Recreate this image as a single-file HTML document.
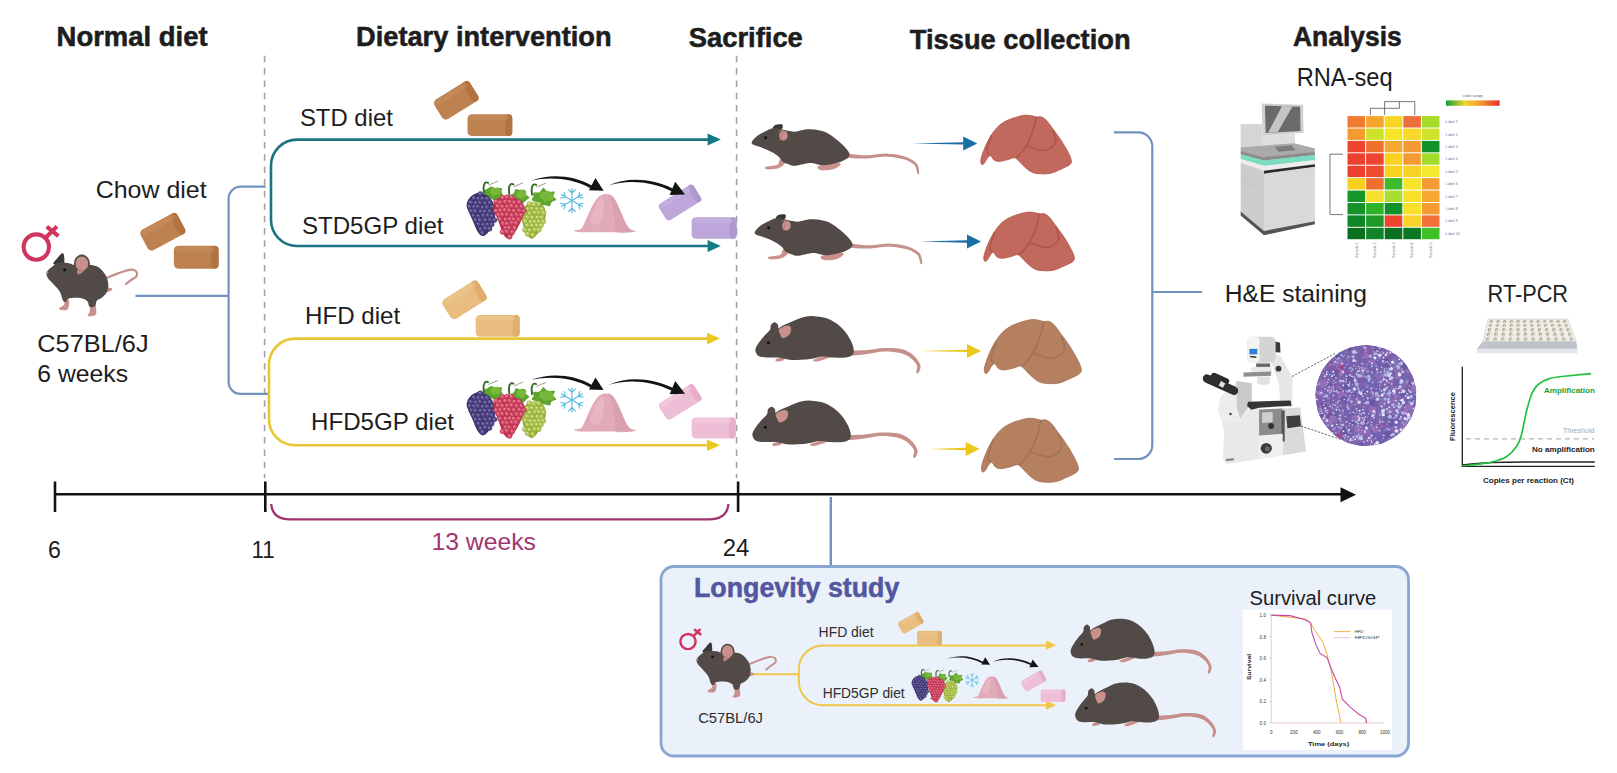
<!DOCTYPE html>
<html><head><meta charset="utf-8"><title>Study design</title>
<style>html,body{margin:0;padding:0;background:#fff}svg{display:block}text{font-family:"Liberation Sans",sans-serif}</style>
</head><body>
<svg width="1617" height="773" viewBox="0 0 1617 773" style="opacity:.999">
<rect width="1617" height="773" fill="#fff"/>
<defs>
<linearGradient id="lg" x1="0" x2="1"><stop offset="0" stop-color="#12a038"/><stop offset="0.35" stop-color="#f3d42a"/><stop offset="0.65" stop-color="#f39a30"/><stop offset="1" stop-color="#e52a2a"/></linearGradient>
</defs>
<path d="M264.6,55.8 V478 M736.6,55.8 V478" stroke="#a4a4a4" stroke-width="1.6" stroke-dasharray="6.5 5.8" fill="none"/>
<path d="M135.5,295.8 H228.6 M265.8,186.7 H240.6 A12,12 0 0 0 228.6,198.7 V381.9 A12,12 0 0 0 240.6,393.9 H268" stroke="#7191bf" stroke-width="2.2" fill="none"/>
<path d="M710,139.6 H297 A26,26 0 0 0 271,165.6 V220 A26,26 0 0 0 297,246 H710" stroke="#1a7282" stroke-width="2.6" fill="none"/>
<path d="M720.8,139.6 L707.6,133.6 V145.6Z M720.8,246 L707.6,240 V252Z" fill="#127a84"/>
<path d="M710,338.6 H295 A26,26 0 0 0 269,364.6 V419.3 A26,26 0 0 0 295,445.3 H710" stroke="#e9c633" stroke-width="2.6" fill="none"/>
<path d="M720,338.6 L707,332.8 V344.4Z M720,445.3 L707,439.5 V451.1Z" fill="#ecc81f"/>
<path d="M55,494.2 H1342 M55,481.5 V512 M265.3,481.5 V512 M738.1,481.5 V512" stroke="#111" stroke-width="2.6" fill="none"/>
<path d="M1356,494.8 L1340.5,487.3 V502.3Z" fill="#111"/>
<path d="M271.2,504 C272,514 278,519.3 290,519.3 H709 C722,519.3 727.6,514 728.4,504" stroke="#a3346f" stroke-width="2.3" fill="none"/>
<path d="M830.8,497 V566" stroke="#7191bf" stroke-width="2.4" fill="none"/>
<path d="M1114,132.4 H1138.3 A14,14 0 0 1 1152.3,146.4 V445 A14,14 0 0 1 1138.3,459 H1114 M1152.3,292 H1202" stroke="#7191bf" stroke-width="2.2" fill="none"/>
<rect x="661" y="566.5" width="747.5" height="189.5" rx="13" fill="#eaf1fb" stroke="#89a6d3" stroke-width="2.8"/>
<path d="M753,674.3 H798.8 M1046,645.4 H822.8 A24,24 0 0 0 798.8,669.4 V681.2 A24,24 0 0 0 822.8,705.2 H1046" stroke="#efc646" stroke-width="2" fill="none"/>
<path d="M1056,645.2 L1046,640.6 V649.8Z M1056,705.2 L1046,700.6 V709.8Z" fill="#efc646"/>
<text x="56.6" y="46" font-size="27" font-weight="bold" fill="#1d1d1d" textLength="151" lengthAdjust="spacingAndGlyphs" stroke="#1d1d1d" stroke-width="0.55">Normal diet</text>
<text x="356.1" y="46" font-size="27" font-weight="bold" fill="#1d1d1d" textLength="255.5" lengthAdjust="spacingAndGlyphs" stroke="#1d1d1d" stroke-width="0.55">Dietary intervention</text>
<text x="688.8" y="47.3" font-size="27" font-weight="bold" fill="#1d1d1d" textLength="114" lengthAdjust="spacingAndGlyphs" stroke="#1d1d1d" stroke-width="0.55">Sacrifice</text>
<text x="909.8" y="48.9" font-size="27" font-weight="bold" fill="#1d1d1d" textLength="220.8" lengthAdjust="spacingAndGlyphs" stroke="#1d1d1d" stroke-width="0.55">Tissue collection</text>
<text x="1293" y="46.4" font-size="27" font-weight="bold" fill="#1d1d1d" textLength="108.7" lengthAdjust="spacingAndGlyphs" stroke="#1d1d1d" stroke-width="0.55">Analysis</text>
<text x="1296.7" y="85.9" font-size="25" font-weight="normal" fill="#1d1d1d" textLength="96" lengthAdjust="spacingAndGlyphs">RNA-seq</text>
<text x="299.9" y="126.2" font-size="23.2" font-weight="normal" fill="#1d1d1d" textLength="93" lengthAdjust="spacingAndGlyphs">STD diet</text>
<text x="301.9" y="233.9" font-size="23.2" font-weight="normal" fill="#1d1d1d" textLength="141.6" lengthAdjust="spacingAndGlyphs">STD5GP diet</text>
<text x="95.7" y="197.6" font-size="23.2" font-weight="normal" fill="#1d1d1d" textLength="111" lengthAdjust="spacingAndGlyphs">Chow diet</text>
<text x="305" y="324" font-size="23.2" font-weight="normal" fill="#1d1d1d" textLength="95.2" lengthAdjust="spacingAndGlyphs">HFD diet</text>
<text x="311" y="430.4" font-size="23.2" font-weight="normal" fill="#1d1d1d" textLength="143" lengthAdjust="spacingAndGlyphs">HFD5GP diet</text>
<text x="37.3" y="352.2" font-size="23.2" font-weight="normal" fill="#1d1d1d" textLength="111.3" lengthAdjust="spacingAndGlyphs">C57BL/6J</text>
<text x="37.3" y="381.5" font-size="23.2" font-weight="normal" fill="#1d1d1d" textLength="90.7" lengthAdjust="spacingAndGlyphs">6 weeks</text>
<text x="48" y="557.5" font-size="23.2" font-weight="normal" fill="#1d1d1d" textLength="12.9" lengthAdjust="spacingAndGlyphs">6</text>
<text x="251.4" y="557.5" font-size="23.2" font-weight="normal" fill="#1d1d1d" textLength="23.2" lengthAdjust="spacingAndGlyphs">11</text>
<text x="722.7" y="556.3" font-size="23.2" font-weight="normal" fill="#1d1d1d" textLength="26.6" lengthAdjust="spacingAndGlyphs">24</text>
<text x="431.5" y="549.8" font-size="23.2" font-weight="normal" fill="#a3346f" textLength="104.4" lengthAdjust="spacingAndGlyphs">13 weeks</text>
<text x="1224.7" y="302" font-size="24.2" font-weight="normal" fill="#1d1d1d" textLength="142.3" lengthAdjust="spacingAndGlyphs">H&amp;E staining</text>
<text x="1487.6" y="302.1" font-size="24.2" font-weight="normal" fill="#1d1d1d" textLength="80.4" lengthAdjust="spacingAndGlyphs">RT-PCR</text>
<text x="694" y="597.2" font-size="28.5" font-weight="bold" fill="#52579e" textLength="205.3" lengthAdjust="spacingAndGlyphs" stroke="#52579e" stroke-width="0.55">Longevity study</text>
<text x="1249.5" y="604.6" font-size="20.5" font-weight="normal" fill="#1d1d1d" textLength="126.7" lengthAdjust="spacingAndGlyphs">Survival curve</text>
<text x="818.6" y="637" font-size="14" font-weight="normal" fill="#2e2e2e" textLength="55" lengthAdjust="spacingAndGlyphs">HFD diet</text>
<text x="822.7" y="697.7" font-size="14" font-weight="normal" fill="#2e2e2e" textLength="82" lengthAdjust="spacingAndGlyphs">HFD5GP diet</text>
<text x="698.2" y="722.5" font-size="14.5" font-weight="normal" fill="#2e2e2e" textLength="64.8" lengthAdjust="spacingAndGlyphs">C57BL/6J</text>
<g transform="translate(162.7,231.9) rotate(-28)"><rect x="-21.0" y="-11.75" width="42" height="23.5" rx="4.7" fill="#be8250"/><rect x="13.5" y="-11.75" width="7.5" height="23.5" rx="3.8" fill="#b07341"/><rect x="-19.0" y="-10.75" width="36" height="5.2" rx="2" fill="#c88f60" opacity="0.55"/></g>
<g transform="translate(196.2,257.2) rotate(0)"><rect x="-22.35" y="-11.5" width="44.7" height="23" rx="4.6" fill="#be8250"/><rect x="15.0" y="-11.5" width="7.4" height="23" rx="3.7" fill="#b07341"/><rect x="-20.35" y="-10.5" width="38.7" height="5.1" rx="2" fill="#c88f60" opacity="0.55"/></g>
<g transform="translate(456.2,100.4) rotate(-32)"><rect x="-21.0" y="-11.5" width="42" height="23" rx="4.6" fill="#be8250"/><rect x="13.6" y="-11.5" width="7.4" height="23" rx="3.7" fill="#b07341"/><rect x="-19.0" y="-10.5" width="36" height="5.1" rx="2" fill="#c88f60" opacity="0.55"/></g>
<g transform="translate(489.9,125.2) rotate(0)"><rect x="-22.35" y="-10.9" width="44.7" height="21.8" rx="4.4" fill="#be8250"/><rect x="15.4" y="-10.9" width="7.0" height="21.8" rx="3.5" fill="#b07341"/><rect x="-20.35" y="-9.9" width="38.7" height="4.8" rx="2" fill="#c88f60" opacity="0.55"/></g>
<g transform="translate(464.4,300) rotate(-32)"><rect x="-21.0" y="-11.5" width="42" height="23" rx="4.6" fill="#e9bd80"/><rect x="13.6" y="-11.5" width="7.4" height="23" rx="3.7" fill="#e0ae6c"/><rect x="-19.0" y="-10.5" width="36" height="5.1" rx="2" fill="#efc990" opacity="0.55"/></g>
<g transform="translate(497.7,325.8) rotate(0)"><rect x="-22.0" y="-10.85" width="44" height="21.7" rx="4.3" fill="#e9bd80"/><rect x="15.1" y="-10.85" width="6.9" height="21.7" rx="3.5" fill="#e0ae6c"/><rect x="-20.0" y="-9.85" width="38" height="4.8" rx="2" fill="#efc990" opacity="0.55"/></g>
<g transform="translate(679.9,202.6) rotate(-32)"><rect x="-20.5" y="-9.75" width="41" height="19.5" rx="3.9" fill="#bda6d9"/><rect x="14.3" y="-9.75" width="6.2" height="19.5" rx="3.1" fill="#b198d0"/><rect x="-18.5" y="-8.75" width="35" height="4.3" rx="2" fill="#c9b6e2" opacity="0.55"/></g>
<g transform="translate(714.1,228) rotate(0)"><rect x="-22.5" y="-10.85" width="45" height="21.7" rx="4.3" fill="#bda6d9"/><rect x="15.6" y="-10.85" width="6.9" height="21.7" rx="3.5" fill="#b198d0"/><rect x="-20.5" y="-9.85" width="39" height="4.8" rx="2" fill="#c9b6e2" opacity="0.55"/></g>
<g transform="translate(680.2,402) rotate(-32)"><rect x="-20.5" y="-9.75" width="41" height="19.5" rx="3.9" fill="#edbed6"/><rect x="14.3" y="-9.75" width="6.2" height="19.5" rx="3.1" fill="#e6aecb"/><rect x="-18.5" y="-8.75" width="35" height="4.3" rx="2" fill="#f3cde0" opacity="0.55"/></g>
<g transform="translate(713.7,428) rotate(0)"><rect x="-22.0" y="-10.6" width="44" height="21.2" rx="4.2" fill="#edbed6"/><rect x="15.2" y="-10.6" width="6.8" height="21.2" rx="3.4" fill="#e6aecb"/><rect x="-20.0" y="-9.6" width="38" height="4.7" rx="2" fill="#f3cde0" opacity="0.55"/></g>
<g transform="translate(910.7,622.8) rotate(-30)"><rect x="-12.0" y="-6.5" width="24" height="13" rx="2.6" fill="#e9bd80"/><rect x="7.8" y="-6.5" width="4.2" height="13" rx="2.1" fill="#e0ae6c"/><rect x="-10.0" y="-5.5" width="18" height="2.9" rx="2" fill="#efc990" opacity="0.55"/></g>
<g transform="translate(929.5,638.1) rotate(0)"><rect x="-12.5" y="-7.3" width="25" height="14.6" rx="2.9" fill="#e9bd80"/><rect x="7.8" y="-7.3" width="4.7" height="14.6" rx="2.3" fill="#e0ae6c"/><rect x="-10.5" y="-6.3" width="19" height="3.2" rx="2" fill="#efc990" opacity="0.55"/></g>
<g transform="translate(1033.6,681) rotate(-30)"><rect x="-12.0" y="-6.0" width="24" height="12" rx="2.4" fill="#edbed6"/><rect x="8.2" y="-6.0" width="3.8" height="12" rx="1.9" fill="#e6aecb"/><rect x="-10.0" y="-5.0" width="18" height="2.6" rx="2" fill="#f3cde0" opacity="0.55"/></g>
<g transform="translate(1053.1,695.7) rotate(0)"><rect x="-12.4" y="-6.2" width="24.8" height="12.4" rx="2.5" fill="#edbed6"/><rect x="8.4" y="-6.2" width="4.0" height="12.4" rx="2.0" fill="#e6aecb"/><rect x="-10.4" y="-5.2" width="18.8" height="2.7" rx="2" fill="#f3cde0" opacity="0.55"/></g>
<g id="gp"><path d="M503.03,195.44 C502.86,195.93 500.07,197.46 499.48,197.93 C498.89,198.40 496.62,200.97 495.91,201.03 C495.21,201.09 491.89,198.91 491.02,198.70 C490.15,198.49 485.96,198.80 485.48,198.46 C485.00,198.12 485.48,195.26 485.26,194.65 C485.04,194.04 482.61,191.57 482.79,191.09 C482.97,190.61 486.67,189.22 487.37,188.85 C488.07,188.48 490.49,186.65 491.18,186.60 C491.87,186.55 494.79,188.15 495.67,188.26 C496.56,188.37 501.31,187.64 501.80,187.96 C502.29,188.28 501.41,191.47 501.51,192.09 C501.61,192.71 503.20,194.95 503.03,195.44Z" fill="#5da52c"/><path d="M529.53,197.48 C529.54,198.02 526.44,200.11 525.90,200.61 C525.36,201.11 523.64,203.28 523.06,203.43 C522.48,203.58 519.66,202.43 518.89,202.45 C518.12,202.47 514.34,203.88 513.82,203.62 C513.30,203.36 513.00,199.97 512.69,199.32 C512.38,198.66 509.96,196.29 510.06,195.76 C510.16,195.23 513.43,193.57 513.90,193.01 C514.37,192.45 515.15,189.26 515.68,189.02 C516.21,188.78 519.51,190.07 520.29,190.14 C521.07,190.21 524.59,189.55 525.04,189.88 C525.49,190.21 525.36,193.51 525.73,194.14 C526.10,194.77 529.52,196.94 529.53,197.48Z" fill="#5da52c"/><path d="M556.47,199.84 C556.34,200.33 552.18,201.66 551.62,202.20 C551.06,202.74 550.43,206.05 549.79,206.28 C549.15,206.51 544.95,204.94 543.96,204.99 C542.97,205.04 538.56,207.12 537.96,206.88 C537.36,206.64 537.30,202.64 536.77,202.08 C536.24,201.52 531.91,200.63 531.64,200.17 C531.37,199.71 533.34,197.23 533.48,196.60 C533.62,195.97 532.80,192.93 533.30,192.57 C533.80,192.21 538.61,192.66 539.45,192.26 C540.29,191.85 542.66,187.74 543.35,187.71 C544.04,187.68 546.78,191.54 547.74,191.86 C548.70,192.18 554.37,191.20 554.83,191.58 C555.29,191.96 553.07,195.68 553.21,196.37 C553.35,197.06 556.60,199.35 556.47,199.84Z" fill="#5da52c"/><path d="M499.41,194.99 C499.10,195.15 496.81,194.79 496.30,194.85 C495.79,194.91 493.68,195.82 493.32,195.72 C492.96,195.62 492.25,193.99 491.96,193.70 C491.67,193.41 489.87,192.56 489.80,192.29 C489.73,192.02 490.94,190.82 491.07,190.46 C491.20,190.10 491.04,188.18 491.35,187.98 C491.67,187.78 494.29,188.16 494.85,188.11 C495.41,188.06 497.72,187.27 498.09,187.40 C498.46,187.53 499.00,189.37 499.33,189.67 C499.65,189.97 501.93,190.78 501.99,191.05 C502.05,191.32 500.28,192.58 500.07,192.91 C499.86,193.24 499.72,194.83 499.41,194.99Z" fill="#78b83a"/><path d="M526.39,196.42 C526.25,196.69 524.18,197.15 523.78,197.37 C523.38,197.59 521.97,199.00 521.59,199.02 C521.21,199.04 519.64,197.77 519.22,197.57 C518.80,197.37 516.74,196.94 516.54,196.66 C516.34,196.38 516.78,194.62 516.82,194.24 C516.86,193.86 516.83,192.38 517.03,192.12 C517.23,191.86 518.87,191.33 519.23,191.08 C519.59,190.83 520.95,189.17 521.31,189.15 C521.67,189.13 523.14,190.69 523.57,190.89 C524.00,191.09 526.34,191.30 526.50,191.56 C526.66,191.82 525.45,193.66 525.44,194.07 C525.43,194.47 526.53,196.14 526.39,196.42Z" fill="#78b83a"/><path d="M553.02,199.89 C552.65,200.18 549.31,200.29 548.63,200.43 C547.95,200.57 545.34,201.65 544.81,201.56 C544.28,201.47 542.73,199.61 542.25,199.30 C541.77,198.99 539.33,198.19 539.11,197.86 C538.89,197.53 539.58,195.81 539.65,195.37 C539.72,194.93 539.54,192.91 539.90,192.62 C540.26,192.33 543.30,192.07 543.95,191.92 C544.60,191.77 547.15,190.78 547.71,190.85 C548.27,190.91 550.18,192.41 550.69,192.70 C551.20,192.99 553.62,194.00 553.82,194.35 C554.02,194.70 553.13,196.49 553.06,196.95 C552.99,197.41 553.39,199.60 553.02,199.89Z" fill="#78b83a"/><path d="M483.93,192.81 C483.88,191.79 483.36,188.40 483.60,186.69 C483.84,184.98 484.64,183.22 485.38,182.57 C486.12,181.92 487.61,182.75 488.05,182.79" fill="none" stroke="#356a27" stroke-width="1.9" stroke-linecap="round"/><path d="M488.39,185.24 C489.22,184.87 491.82,183.69 493.40,183.02 C494.98,182.35 497.11,181.53 497.85,181.23" fill="none" stroke="#7a6a4a" stroke-width="0.7"/><path d="M509.32,194.37 C509.26,193.35 508.74,189.96 508.98,188.25 C509.22,186.54 510.02,184.78 510.76,184.13 C511.50,183.48 512.98,184.31 513.43,184.35" fill="none" stroke="#356a27" stroke-width="1.9" stroke-linecap="round"/><path d="M513.77,186.80 C514.61,186.43 517.20,185.24 518.78,184.57 C520.36,183.90 522.49,183.09 523.23,182.79" fill="none" stroke="#7a6a4a" stroke-width="0.7"/><path d="M532.02,194.82 C531.97,193.80 531.45,190.40 531.69,188.69 C531.93,186.98 532.73,185.22 533.47,184.57 C534.21,183.92 535.69,184.76 536.14,184.80" fill="none" stroke="#356a27" stroke-width="1.9" stroke-linecap="round"/><path d="M536.48,187.25 C537.32,186.88 539.91,185.69 541.49,185.02 C543.07,184.35 545.20,183.54 545.94,183.24" fill="none" stroke="#7a6a4a" stroke-width="0.7"/><path d="M466.68,204.17 C467.05,201.81 468.45,198.60 470.58,196.71 C472.71,194.82 476.42,192.75 479.48,192.81 C482.54,192.87 486.40,194.63 488.94,197.04 C491.48,199.45 493.76,203.53 494.73,207.28 C495.70,211.03 495.47,215.82 494.73,219.53 C493.99,223.24 492.13,226.81 490.28,229.55 C488.42,232.30 485.68,235.59 483.60,236.00 C481.52,236.41 479.70,234.75 477.81,232.00 C475.92,229.25 473.83,223.06 472.25,219.53 C470.67,216.00 469.28,213.41 468.35,210.85 C467.42,208.29 466.31,206.53 466.68,204.17Z" fill="#3c3468"/><circle cx="480.3" cy="194.0" r="2.45" fill="#554b8c" stroke="#3c3468" stroke-width="0.6"/><circle cx="479.7" cy="193.3" r="0.9" fill="#8a82c0"/><circle cx="473.9" cy="198.2" r="2.45" fill="#554b8c" stroke="#3c3468" stroke-width="0.6"/><circle cx="473.3" cy="197.5" r="0.9" fill="#8a82c0"/><circle cx="478.4" cy="198.5" r="2.45" fill="#554b8c" stroke="#3c3468" stroke-width="0.6"/><circle cx="477.8" cy="197.8" r="0.9" fill="#8a82c0"/><circle cx="482.5" cy="198.6" r="2.45" fill="#554b8c" stroke="#3c3468" stroke-width="0.6"/><circle cx="481.9" cy="197.9" r="0.9" fill="#8a82c0"/><circle cx="487.1" cy="198.5" r="2.45" fill="#554b8c" stroke="#3c3468" stroke-width="0.6"/><circle cx="486.5" cy="197.8" r="0.9" fill="#8a82c0"/><circle cx="470.8" cy="202.5" r="2.45" fill="#554b8c" stroke="#3c3468" stroke-width="0.6"/><circle cx="470.2" cy="201.8" r="0.9" fill="#8a82c0"/><circle cx="475.8" cy="203.2" r="2.45" fill="#554b8c" stroke="#3c3468" stroke-width="0.6"/><circle cx="475.2" cy="202.5" r="0.9" fill="#8a82c0"/><circle cx="480.1" cy="202.6" r="2.45" fill="#554b8c" stroke="#3c3468" stroke-width="0.6"/><circle cx="479.5" cy="201.9" r="0.9" fill="#8a82c0"/><circle cx="485.2" cy="203.3" r="2.45" fill="#554b8c" stroke="#3c3468" stroke-width="0.6"/><circle cx="484.6" cy="202.6" r="0.9" fill="#8a82c0"/><circle cx="489.8" cy="202.8" r="2.45" fill="#554b8c" stroke="#3c3468" stroke-width="0.6"/><circle cx="489.2" cy="202.1" r="0.9" fill="#8a82c0"/><circle cx="469.6" cy="206.7" r="2.45" fill="#554b8c" stroke="#3c3468" stroke-width="0.6"/><circle cx="469.0" cy="206.0" r="0.9" fill="#8a82c0"/><circle cx="474.1" cy="207.0" r="2.45" fill="#554b8c" stroke="#3c3468" stroke-width="0.6"/><circle cx="473.5" cy="206.3" r="0.9" fill="#8a82c0"/><circle cx="478.0" cy="206.8" r="2.45" fill="#554b8c" stroke="#3c3468" stroke-width="0.6"/><circle cx="477.4" cy="206.1" r="0.9" fill="#8a82c0"/><circle cx="482.7" cy="207.5" r="2.45" fill="#554b8c" stroke="#3c3468" stroke-width="0.6"/><circle cx="482.1" cy="206.8" r="0.9" fill="#8a82c0"/><circle cx="487.2" cy="207.3" r="2.45" fill="#554b8c" stroke="#3c3468" stroke-width="0.6"/><circle cx="486.6" cy="206.6" r="0.9" fill="#8a82c0"/><circle cx="492.3" cy="207.0" r="2.45" fill="#554b8c" stroke="#3c3468" stroke-width="0.6"/><circle cx="491.7" cy="206.3" r="0.9" fill="#8a82c0"/><circle cx="471.3" cy="211.0" r="2.45" fill="#554b8c" stroke="#3c3468" stroke-width="0.6"/><circle cx="470.7" cy="210.3" r="0.9" fill="#8a82c0"/><circle cx="475.4" cy="211.2" r="2.45" fill="#554b8c" stroke="#3c3468" stroke-width="0.6"/><circle cx="474.8" cy="210.5" r="0.9" fill="#8a82c0"/><circle cx="480.7" cy="211.4" r="2.45" fill="#554b8c" stroke="#3c3468" stroke-width="0.6"/><circle cx="480.1" cy="210.7" r="0.9" fill="#8a82c0"/><circle cx="484.9" cy="211.5" r="2.45" fill="#554b8c" stroke="#3c3468" stroke-width="0.6"/><circle cx="484.3" cy="210.8" r="0.9" fill="#8a82c0"/><circle cx="489.6" cy="211.3" r="2.45" fill="#554b8c" stroke="#3c3468" stroke-width="0.6"/><circle cx="489.0" cy="210.6" r="0.9" fill="#8a82c0"/><circle cx="494.6" cy="211.7" r="2.45" fill="#554b8c" stroke="#3c3468" stroke-width="0.6"/><circle cx="494.0" cy="211.0" r="0.9" fill="#8a82c0"/><circle cx="473.5" cy="215.8" r="2.45" fill="#554b8c" stroke="#3c3468" stroke-width="0.6"/><circle cx="472.9" cy="215.1" r="0.9" fill="#8a82c0"/><circle cx="478.4" cy="216.1" r="2.45" fill="#554b8c" stroke="#3c3468" stroke-width="0.6"/><circle cx="477.8" cy="215.4" r="0.9" fill="#8a82c0"/><circle cx="483.2" cy="215.5" r="2.45" fill="#554b8c" stroke="#3c3468" stroke-width="0.6"/><circle cx="482.6" cy="214.8" r="0.9" fill="#8a82c0"/><circle cx="488.0" cy="215.4" r="2.45" fill="#554b8c" stroke="#3c3468" stroke-width="0.6"/><circle cx="487.4" cy="214.7" r="0.9" fill="#8a82c0"/><circle cx="492.0" cy="216.0" r="2.45" fill="#554b8c" stroke="#3c3468" stroke-width="0.6"/><circle cx="491.4" cy="215.3" r="0.9" fill="#8a82c0"/><circle cx="475.5" cy="220.0" r="2.45" fill="#554b8c" stroke="#3c3468" stroke-width="0.6"/><circle cx="474.9" cy="219.3" r="0.9" fill="#8a82c0"/><circle cx="480.0" cy="220.2" r="2.45" fill="#554b8c" stroke="#3c3468" stroke-width="0.6"/><circle cx="479.4" cy="219.5" r="0.9" fill="#8a82c0"/><circle cx="485.3" cy="220.1" r="2.45" fill="#554b8c" stroke="#3c3468" stroke-width="0.6"/><circle cx="484.7" cy="219.4" r="0.9" fill="#8a82c0"/><circle cx="490.1" cy="219.8" r="2.45" fill="#554b8c" stroke="#3c3468" stroke-width="0.6"/><circle cx="489.5" cy="219.1" r="0.9" fill="#8a82c0"/><circle cx="494.5" cy="220.1" r="2.45" fill="#554b8c" stroke="#3c3468" stroke-width="0.6"/><circle cx="493.9" cy="219.4" r="0.9" fill="#8a82c0"/><circle cx="478.4" cy="224.3" r="2.45" fill="#554b8c" stroke="#3c3468" stroke-width="0.6"/><circle cx="477.8" cy="223.6" r="0.9" fill="#8a82c0"/><circle cx="483.3" cy="224.8" r="2.45" fill="#554b8c" stroke="#3c3468" stroke-width="0.6"/><circle cx="482.7" cy="224.1" r="0.9" fill="#8a82c0"/><circle cx="487.5" cy="224.5" r="2.45" fill="#554b8c" stroke="#3c3468" stroke-width="0.6"/><circle cx="486.9" cy="223.8" r="0.9" fill="#8a82c0"/><circle cx="491.7" cy="224.5" r="2.45" fill="#554b8c" stroke="#3c3468" stroke-width="0.6"/><circle cx="491.1" cy="223.8" r="0.9" fill="#8a82c0"/><circle cx="480.6" cy="229.1" r="2.45" fill="#554b8c" stroke="#3c3468" stroke-width="0.6"/><circle cx="480.0" cy="228.4" r="0.9" fill="#8a82c0"/><circle cx="485.4" cy="228.4" r="2.45" fill="#554b8c" stroke="#3c3468" stroke-width="0.6"/><circle cx="484.8" cy="227.7" r="0.9" fill="#8a82c0"/><circle cx="489.6" cy="228.8" r="2.45" fill="#554b8c" stroke="#3c3468" stroke-width="0.6"/><circle cx="489.0" cy="228.1" r="0.9" fill="#8a82c0"/><circle cx="482.5" cy="232.9" r="2.45" fill="#554b8c" stroke="#3c3468" stroke-width="0.6"/><circle cx="481.9" cy="232.2" r="0.9" fill="#8a82c0"/><path d="M520.67,213.07 C521.04,210.47 522.44,208.10 524.57,206.39 C526.70,204.68 530.47,203.05 533.47,202.83 C536.48,202.61 540.52,203.21 542.60,205.06 C544.68,206.91 545.76,211.09 545.94,213.96 C546.12,216.84 545.01,219.16 543.71,222.31 C542.41,225.47 540.19,230.16 538.15,232.89 C536.11,235.62 533.55,238.64 531.47,238.68 C529.39,238.72 527.20,235.89 525.68,233.11 C524.16,230.33 523.18,225.32 522.34,221.98 C521.50,218.64 520.30,215.67 520.67,213.07Z" fill="#93ab3c"/><circle cx="529.5" cy="203.9" r="2.45" fill="#b3c955" stroke="#93ab3c" stroke-width="0.6"/><circle cx="528.9" cy="203.2" r="0.9" fill="#dbe69a"/><circle cx="534.0" cy="204.6" r="2.45" fill="#b3c955" stroke="#93ab3c" stroke-width="0.6"/><circle cx="533.4" cy="203.9" r="0.9" fill="#dbe69a"/><circle cx="538.7" cy="204.1" r="2.45" fill="#b3c955" stroke="#93ab3c" stroke-width="0.6"/><circle cx="538.1" cy="203.4" r="0.9" fill="#dbe69a"/><circle cx="527.6" cy="209.0" r="2.45" fill="#b3c955" stroke="#93ab3c" stroke-width="0.6"/><circle cx="527.0" cy="208.3" r="0.9" fill="#dbe69a"/><circle cx="531.9" cy="208.6" r="2.45" fill="#b3c955" stroke="#93ab3c" stroke-width="0.6"/><circle cx="531.3" cy="207.9" r="0.9" fill="#dbe69a"/><circle cx="537.0" cy="209.0" r="2.45" fill="#b3c955" stroke="#93ab3c" stroke-width="0.6"/><circle cx="536.4" cy="208.3" r="0.9" fill="#dbe69a"/><circle cx="541.8" cy="209.0" r="2.45" fill="#b3c955" stroke="#93ab3c" stroke-width="0.6"/><circle cx="541.2" cy="208.3" r="0.9" fill="#dbe69a"/><circle cx="525.0" cy="212.8" r="2.45" fill="#b3c955" stroke="#93ab3c" stroke-width="0.6"/><circle cx="524.4" cy="212.1" r="0.9" fill="#dbe69a"/><circle cx="529.7" cy="213.3" r="2.45" fill="#b3c955" stroke="#93ab3c" stroke-width="0.6"/><circle cx="529.1" cy="212.6" r="0.9" fill="#dbe69a"/><circle cx="534.9" cy="212.6" r="2.45" fill="#b3c955" stroke="#93ab3c" stroke-width="0.6"/><circle cx="534.3" cy="211.9" r="0.9" fill="#dbe69a"/><circle cx="538.7" cy="212.6" r="2.45" fill="#b3c955" stroke="#93ab3c" stroke-width="0.6"/><circle cx="538.1" cy="211.9" r="0.9" fill="#dbe69a"/><circle cx="543.4" cy="212.9" r="2.45" fill="#b3c955" stroke="#93ab3c" stroke-width="0.6"/><circle cx="542.8" cy="212.2" r="0.9" fill="#dbe69a"/><circle cx="523.2" cy="217.0" r="2.45" fill="#b3c955" stroke="#93ab3c" stroke-width="0.6"/><circle cx="522.6" cy="216.3" r="0.9" fill="#dbe69a"/><circle cx="527.2" cy="217.1" r="2.45" fill="#b3c955" stroke="#93ab3c" stroke-width="0.6"/><circle cx="526.6" cy="216.4" r="0.9" fill="#dbe69a"/><circle cx="532.2" cy="217.3" r="2.45" fill="#b3c955" stroke="#93ab3c" stroke-width="0.6"/><circle cx="531.6" cy="216.6" r="0.9" fill="#dbe69a"/><circle cx="537.4" cy="217.4" r="2.45" fill="#b3c955" stroke="#93ab3c" stroke-width="0.6"/><circle cx="536.8" cy="216.7" r="0.9" fill="#dbe69a"/><circle cx="541.5" cy="217.3" r="2.45" fill="#b3c955" stroke="#93ab3c" stroke-width="0.6"/><circle cx="540.9" cy="216.6" r="0.9" fill="#dbe69a"/><circle cx="525.4" cy="221.0" r="2.45" fill="#b3c955" stroke="#93ab3c" stroke-width="0.6"/><circle cx="524.8" cy="220.3" r="0.9" fill="#dbe69a"/><circle cx="530.3" cy="221.8" r="2.45" fill="#b3c955" stroke="#93ab3c" stroke-width="0.6"/><circle cx="529.7" cy="221.1" r="0.9" fill="#dbe69a"/><circle cx="534.8" cy="221.8" r="2.45" fill="#b3c955" stroke="#93ab3c" stroke-width="0.6"/><circle cx="534.2" cy="221.1" r="0.9" fill="#dbe69a"/><circle cx="539.0" cy="221.4" r="2.45" fill="#b3c955" stroke="#93ab3c" stroke-width="0.6"/><circle cx="538.4" cy="220.7" r="0.9" fill="#dbe69a"/><circle cx="543.3" cy="221.6" r="2.45" fill="#b3c955" stroke="#93ab3c" stroke-width="0.6"/><circle cx="542.7" cy="220.9" r="0.9" fill="#dbe69a"/><circle cx="527.3" cy="225.3" r="2.45" fill="#b3c955" stroke="#93ab3c" stroke-width="0.6"/><circle cx="526.7" cy="224.6" r="0.9" fill="#dbe69a"/><circle cx="532.0" cy="225.4" r="2.45" fill="#b3c955" stroke="#93ab3c" stroke-width="0.6"/><circle cx="531.4" cy="224.7" r="0.9" fill="#dbe69a"/><circle cx="536.8" cy="225.3" r="2.45" fill="#b3c955" stroke="#93ab3c" stroke-width="0.6"/><circle cx="536.2" cy="224.6" r="0.9" fill="#dbe69a"/><circle cx="541.0" cy="225.4" r="2.45" fill="#b3c955" stroke="#93ab3c" stroke-width="0.6"/><circle cx="540.4" cy="224.7" r="0.9" fill="#dbe69a"/><circle cx="524.9" cy="229.9" r="2.45" fill="#b3c955" stroke="#93ab3c" stroke-width="0.6"/><circle cx="524.3" cy="229.2" r="0.9" fill="#dbe69a"/><circle cx="529.4" cy="230.4" r="2.45" fill="#b3c955" stroke="#93ab3c" stroke-width="0.6"/><circle cx="528.8" cy="229.7" r="0.9" fill="#dbe69a"/><circle cx="534.6" cy="229.7" r="2.45" fill="#b3c955" stroke="#93ab3c" stroke-width="0.6"/><circle cx="534.0" cy="229.0" r="0.9" fill="#dbe69a"/><circle cx="538.8" cy="229.9" r="2.45" fill="#b3c955" stroke="#93ab3c" stroke-width="0.6"/><circle cx="538.2" cy="229.2" r="0.9" fill="#dbe69a"/><circle cx="527.6" cy="234.0" r="2.45" fill="#b3c955" stroke="#93ab3c" stroke-width="0.6"/><circle cx="527.0" cy="233.3" r="0.9" fill="#dbe69a"/><circle cx="532.7" cy="234.8" r="2.45" fill="#b3c955" stroke="#93ab3c" stroke-width="0.6"/><circle cx="532.1" cy="234.1" r="0.9" fill="#dbe69a"/><path d="M493.40,205.28 C493.40,201.75 495.44,200.12 497.85,198.60 C500.26,197.08 504.49,196.00 507.87,196.15 C511.25,196.30 515.38,197.78 518.11,199.49 C520.84,201.20 523.49,203.38 524.23,206.39 C524.97,209.39 523.95,213.48 522.56,217.52 C521.17,221.56 518.11,227.13 515.88,230.66 C513.65,234.19 511.28,238.09 509.20,238.68 C507.12,239.27 505.31,237.38 503.42,234.22 C501.53,231.06 499.52,224.57 497.85,219.75 C496.18,214.93 493.40,208.81 493.40,205.28Z" fill="#b8324e"/><circle cx="502.6" cy="197.6" r="2.45" fill="#d5506a" stroke="#b8324e" stroke-width="0.6"/><circle cx="502.0" cy="196.9" r="0.9" fill="#f090a5"/><circle cx="506.8" cy="197.3" r="2.45" fill="#d5506a" stroke="#b8324e" stroke-width="0.6"/><circle cx="506.2" cy="196.6" r="0.9" fill="#f090a5"/><circle cx="511.6" cy="197.4" r="2.45" fill="#d5506a" stroke="#b8324e" stroke-width="0.6"/><circle cx="511.0" cy="196.7" r="0.9" fill="#f090a5"/><circle cx="496.2" cy="201.6" r="2.45" fill="#d5506a" stroke="#b8324e" stroke-width="0.6"/><circle cx="495.6" cy="200.9" r="0.9" fill="#f090a5"/><circle cx="500.0" cy="202.4" r="2.45" fill="#d5506a" stroke="#b8324e" stroke-width="0.6"/><circle cx="499.4" cy="201.7" r="0.9" fill="#f090a5"/><circle cx="505.1" cy="201.6" r="2.45" fill="#d5506a" stroke="#b8324e" stroke-width="0.6"/><circle cx="504.5" cy="200.9" r="0.9" fill="#f090a5"/><circle cx="509.7" cy="201.5" r="2.45" fill="#d5506a" stroke="#b8324e" stroke-width="0.6"/><circle cx="509.1" cy="200.8" r="0.9" fill="#f090a5"/><circle cx="514.3" cy="202.4" r="2.45" fill="#d5506a" stroke="#b8324e" stroke-width="0.6"/><circle cx="513.7" cy="201.7" r="0.9" fill="#f090a5"/><circle cx="519.2" cy="202.1" r="2.45" fill="#d5506a" stroke="#b8324e" stroke-width="0.6"/><circle cx="518.6" cy="201.4" r="0.9" fill="#f090a5"/><circle cx="497.8" cy="206.1" r="2.45" fill="#d5506a" stroke="#b8324e" stroke-width="0.6"/><circle cx="497.2" cy="205.4" r="0.9" fill="#f090a5"/><circle cx="502.3" cy="206.5" r="2.45" fill="#d5506a" stroke="#b8324e" stroke-width="0.6"/><circle cx="501.7" cy="205.8" r="0.9" fill="#f090a5"/><circle cx="507.2" cy="206.5" r="2.45" fill="#d5506a" stroke="#b8324e" stroke-width="0.6"/><circle cx="506.6" cy="205.8" r="0.9" fill="#f090a5"/><circle cx="511.6" cy="205.9" r="2.45" fill="#d5506a" stroke="#b8324e" stroke-width="0.6"/><circle cx="511.0" cy="205.2" r="0.9" fill="#f090a5"/><circle cx="516.7" cy="206.7" r="2.45" fill="#d5506a" stroke="#b8324e" stroke-width="0.6"/><circle cx="516.1" cy="206.0" r="0.9" fill="#f090a5"/><circle cx="521.4" cy="206.5" r="2.45" fill="#d5506a" stroke="#b8324e" stroke-width="0.6"/><circle cx="520.8" cy="205.8" r="0.9" fill="#f090a5"/><circle cx="496.2" cy="210.8" r="2.45" fill="#d5506a" stroke="#b8324e" stroke-width="0.6"/><circle cx="495.6" cy="210.1" r="0.9" fill="#f090a5"/><circle cx="500.2" cy="210.5" r="2.45" fill="#d5506a" stroke="#b8324e" stroke-width="0.6"/><circle cx="499.6" cy="209.8" r="0.9" fill="#f090a5"/><circle cx="504.9" cy="210.0" r="2.45" fill="#d5506a" stroke="#b8324e" stroke-width="0.6"/><circle cx="504.3" cy="209.3" r="0.9" fill="#f090a5"/><circle cx="509.2" cy="210.3" r="2.45" fill="#d5506a" stroke="#b8324e" stroke-width="0.6"/><circle cx="508.6" cy="209.6" r="0.9" fill="#f090a5"/><circle cx="514.0" cy="210.7" r="2.45" fill="#d5506a" stroke="#b8324e" stroke-width="0.6"/><circle cx="513.4" cy="210.0" r="0.9" fill="#f090a5"/><circle cx="519.3" cy="210.5" r="2.45" fill="#d5506a" stroke="#b8324e" stroke-width="0.6"/><circle cx="518.7" cy="209.8" r="0.9" fill="#f090a5"/><circle cx="523.9" cy="211.0" r="2.45" fill="#d5506a" stroke="#b8324e" stroke-width="0.6"/><circle cx="523.3" cy="210.3" r="0.9" fill="#f090a5"/><circle cx="498.5" cy="214.7" r="2.45" fill="#d5506a" stroke="#b8324e" stroke-width="0.6"/><circle cx="497.9" cy="214.0" r="0.9" fill="#f090a5"/><circle cx="502.3" cy="214.5" r="2.45" fill="#d5506a" stroke="#b8324e" stroke-width="0.6"/><circle cx="501.7" cy="213.8" r="0.9" fill="#f090a5"/><circle cx="506.9" cy="214.5" r="2.45" fill="#d5506a" stroke="#b8324e" stroke-width="0.6"/><circle cx="506.3" cy="213.8" r="0.9" fill="#f090a5"/><circle cx="511.9" cy="215.2" r="2.45" fill="#d5506a" stroke="#b8324e" stroke-width="0.6"/><circle cx="511.3" cy="214.5" r="0.9" fill="#f090a5"/><circle cx="516.7" cy="214.8" r="2.45" fill="#d5506a" stroke="#b8324e" stroke-width="0.6"/><circle cx="516.1" cy="214.1" r="0.9" fill="#f090a5"/><circle cx="521.2" cy="215.1" r="2.45" fill="#d5506a" stroke="#b8324e" stroke-width="0.6"/><circle cx="520.6" cy="214.4" r="0.9" fill="#f090a5"/><circle cx="500.0" cy="219.2" r="2.45" fill="#d5506a" stroke="#b8324e" stroke-width="0.6"/><circle cx="499.4" cy="218.5" r="0.9" fill="#f090a5"/><circle cx="505.5" cy="219.4" r="2.45" fill="#d5506a" stroke="#b8324e" stroke-width="0.6"/><circle cx="504.9" cy="218.7" r="0.9" fill="#f090a5"/><circle cx="509.9" cy="219.1" r="2.45" fill="#d5506a" stroke="#b8324e" stroke-width="0.6"/><circle cx="509.3" cy="218.4" r="0.9" fill="#f090a5"/><circle cx="513.9" cy="219.4" r="2.45" fill="#d5506a" stroke="#b8324e" stroke-width="0.6"/><circle cx="513.3" cy="218.7" r="0.9" fill="#f090a5"/><circle cx="518.7" cy="219.4" r="2.45" fill="#d5506a" stroke="#b8324e" stroke-width="0.6"/><circle cx="518.1" cy="218.7" r="0.9" fill="#f090a5"/><circle cx="503.1" cy="223.3" r="2.45" fill="#d5506a" stroke="#b8324e" stroke-width="0.6"/><circle cx="502.5" cy="222.6" r="0.9" fill="#f090a5"/><circle cx="507.1" cy="223.8" r="2.45" fill="#d5506a" stroke="#b8324e" stroke-width="0.6"/><circle cx="506.5" cy="223.1" r="0.9" fill="#f090a5"/><circle cx="512.0" cy="223.0" r="2.45" fill="#d5506a" stroke="#b8324e" stroke-width="0.6"/><circle cx="511.4" cy="222.3" r="0.9" fill="#f090a5"/><circle cx="516.0" cy="223.0" r="2.45" fill="#d5506a" stroke="#b8324e" stroke-width="0.6"/><circle cx="515.4" cy="222.3" r="0.9" fill="#f090a5"/><circle cx="505.5" cy="228.0" r="2.45" fill="#d5506a" stroke="#b8324e" stroke-width="0.6"/><circle cx="504.9" cy="227.3" r="0.9" fill="#f090a5"/><circle cx="509.3" cy="228.0" r="2.45" fill="#d5506a" stroke="#b8324e" stroke-width="0.6"/><circle cx="508.7" cy="227.3" r="0.9" fill="#f090a5"/><circle cx="514.7" cy="227.8" r="2.45" fill="#d5506a" stroke="#b8324e" stroke-width="0.6"/><circle cx="514.1" cy="227.1" r="0.9" fill="#f090a5"/><circle cx="502.5" cy="232.0" r="2.45" fill="#d5506a" stroke="#b8324e" stroke-width="0.6"/><circle cx="501.9" cy="231.3" r="0.9" fill="#f090a5"/><circle cx="506.8" cy="231.5" r="2.45" fill="#d5506a" stroke="#b8324e" stroke-width="0.6"/><circle cx="506.2" cy="230.8" r="0.9" fill="#f090a5"/><circle cx="512.3" cy="232.1" r="2.45" fill="#d5506a" stroke="#b8324e" stroke-width="0.6"/><circle cx="511.7" cy="231.4" r="0.9" fill="#f090a5"/><circle cx="509.7" cy="236.7" r="2.45" fill="#d5506a" stroke="#b8324e" stroke-width="0.6"/><circle cx="509.1" cy="236.0" r="0.9" fill="#f090a5"/><g transform="translate(571.9,200.6)" stroke="#55bce0" stroke-width="1.15" fill="none" stroke-linecap="round"><g transform="rotate(0)"><path d="M0,0 V-12 M0,-7.6 L-3.3,-10.9 M0,-7.6 L3.3,-10.9"/></g><g transform="rotate(60)"><path d="M0,0 V-12 M0,-7.6 L-3.3,-10.9 M0,-7.6 L3.3,-10.9"/></g><g transform="rotate(120)"><path d="M0,0 V-12 M0,-7.6 L-3.3,-10.9 M0,-7.6 L3.3,-10.9"/></g><g transform="rotate(180)"><path d="M0,0 V-12 M0,-7.6 L-3.3,-10.9 M0,-7.6 L3.3,-10.9"/></g><g transform="rotate(240)"><path d="M0,0 V-12 M0,-7.6 L-3.3,-10.9 M0,-7.6 L3.3,-10.9"/></g><g transform="rotate(300)"><path d="M0,0 V-12 M0,-7.6 L-3.3,-10.9 M0,-7.6 L3.3,-10.9"/></g></g><path d="M573.80,230.46 C573.84,229.93 579.42,229.97 581.09,228.70 C582.76,227.43 583.76,224.41 584.96,222.00 C586.16,219.59 587.76,215.42 589.08,212.60 C590.40,209.78 592.34,205.56 593.78,203.20 C595.22,200.84 597.30,198.18 598.71,196.86 C600.12,195.54 601.72,194.76 603.18,194.39 C604.64,194.02 606.94,193.95 608.47,194.39 C610.00,194.83 612.04,195.83 613.40,197.33 C614.76,198.83 616.28,201.91 617.51,204.38 C618.74,206.85 620.40,210.96 621.63,213.78 C622.86,216.60 624.51,220.89 625.74,223.18 C626.97,225.47 628.33,227.83 629.85,229.05 C631.37,230.27 635.80,230.81 635.85,231.29 C635.90,231.77 634.76,232.09 630.21,232.23 C625.66,232.37 612.93,232.23 605.53,232.23 C598.13,232.23 585.61,232.50 580.85,232.23 C576.09,231.96 573.76,230.99 573.80,230.46Z" fill="#e0abb7"/><path d="M608.47,194.51 C608.59,193.28 612.04,195.85 613.40,197.33 C614.76,198.81 616.28,201.91 617.51,204.38 C618.74,206.85 620.40,210.96 621.63,213.78 C622.86,216.60 624.51,220.89 625.74,223.18 C626.97,225.47 628.83,227.75 629.85,229.05 C630.87,230.35 634.62,231.41 632.56,231.87 C630.50,232.33 618.74,233.94 616.10,232.11 C613.46,230.28 615.46,223.63 614.93,219.65 C614.40,215.67 613.55,209.32 612.58,205.55 C611.61,201.78 608.35,195.74 608.47,194.51Z" fill="#d79dab" opacity="0.8"/><path d="M590.25,222.00 C589.47,219.26 593.09,210.84 594.95,206.73 C596.81,202.62 599.85,197.53 601.42,197.33 C602.99,197.13 604.64,201.24 604.35,205.55 C604.06,209.86 602.00,220.44 599.65,223.18 C597.30,225.92 591.03,224.74 590.25,222.00Z" fill="#e9bec8" opacity="0.6"/></g>
<g id="ar"><path d="M531.25,180.79 C549.06,173.33 573.55,175.0 591.92,185.58 L590.25,188.14 C572.43,178.12 549.06,176.34 531.25,180.79Z" fill="#141414"/><path d="M603.60,190.81 L588.91,190.14 L595.48,178.12Z" fill="#141414"/><path d="M608.28,185.73 C626.91,176.73 651.75,178.28 672.97,188.63 L671.41,191.22 C650.71,181.18 626.91,179.52 608.28,185.73Z" fill="#141414"/><path d="M685.08,194.43 L669.65,194.94 L675.24,181.70Z" fill="#141414"/></g>
<use href="#gp" transform="translate(0,199.3)"/><use href="#ar" transform="translate(0,199.3)"/>
<use href="#gp" transform="translate(643.3,564.8) scale(0.575)"/><use href="#ar" transform="translate(630.9,551.3) scale(0.595)"/>
<g id="lean"><path d="M847.97,153.96 C851.22,153.53 860.86,155.36 867.45,155.30 C874.04,155.25 881.27,153.44 887.49,153.63 C893.71,153.81 899.93,154.83 904.75,156.41 C909.57,157.99 914.02,160.34 916.43,163.09 C918.84,165.84 919.07,171.18 919.22,172.89 C919.37,174.60 918.17,174.67 917.33,173.33 C916.50,171.99 916.49,167.21 914.21,164.87 C911.93,162.53 908.08,160.68 903.63,159.31 C899.18,157.94 893.52,156.78 887.49,156.63 C881.46,156.48 874.04,158.21 867.45,158.42 C860.86,158.62 851.22,158.60 847.97,157.86 C844.72,157.12 844.72,154.39 847.97,153.96Z" fill="#c58f8a"/><path d="M780.07,159.53 C778.77,160.22 779.69,163.53 777.28,164.76 C774.87,165.98 767.26,166.12 765.59,166.88 C763.92,167.64 765.12,169.10 767.26,169.32 C769.39,169.54 775.52,169.10 778.40,168.21 C781.28,167.32 783.41,165.24 784.52,163.98 C785.63,162.72 785.82,161.38 785.08,160.64 C784.34,159.90 781.37,158.84 780.07,159.53Z" fill="#c9908c"/><path d="M817.92,166.43 C815.88,167.66 819.12,169.81 821.81,170.22 C824.50,170.63 830.90,169.92 834.06,168.88 C837.21,167.84 840.74,164.98 840.74,163.98 C840.74,162.98 837.86,162.46 834.06,162.87 C830.26,163.28 819.96,165.21 817.92,166.43Z" fill="#c9908c"/><path d="M772.83,128.92 C772.12,127.99 773.79,125.78 775.28,125.02 C776.76,124.26 780.51,123.94 781.74,124.35 C782.97,124.76 783.00,126.43 782.63,127.47 C782.26,128.51 781.14,130.34 779.51,130.58 C777.88,130.82 773.54,129.85 772.83,128.92Z" fill="#3b3735"/><path d="M751.68,142.27 C752.05,140.88 754.09,138.44 756.13,136.71 C758.17,134.99 761.14,133.35 763.92,131.92 C766.70,130.49 770.05,128.58 772.83,128.14 C775.61,127.69 778.12,128.81 780.62,129.25 C783.12,129.69 785.45,130.40 787.86,130.81 C790.27,131.22 792.22,131.92 795.09,131.70 C797.97,131.48 801.40,129.77 805.11,129.47 C808.82,129.17 813.74,129.36 817.36,129.92 C820.98,130.48 823.63,131.22 826.82,132.81 C830.01,134.41 833.60,137.23 836.51,139.49 C839.42,141.75 842.17,144.13 844.30,146.39 C846.43,148.65 848.66,151.21 849.31,153.07 C849.96,154.93 849.25,156.22 848.19,157.52 C847.13,158.82 844.95,159.93 842.96,160.86 C840.98,161.79 839.62,162.35 836.28,163.09 C832.94,163.83 827.00,165.32 822.92,165.32 C818.84,165.32 815.13,163.28 811.79,163.09 C808.45,162.90 805.86,163.74 802.89,164.20 C799.92,164.66 796.39,165.87 793.98,165.87 C791.57,165.87 790.27,164.89 788.42,164.20 C786.56,163.51 784.52,163.05 782.85,161.75 C781.18,160.45 780.25,158.04 778.40,156.41 C776.54,154.78 774.50,153.44 771.72,151.96 C768.94,150.48 764.67,148.66 761.70,147.51 C758.73,146.36 755.58,145.93 753.91,145.06 C752.24,144.19 751.31,143.66 751.68,142.27Z" fill="#524a46"/><ellipse cx="783.41" cy="135.59" rx="4.3" ry="5" fill="#c9908c" transform="rotate(8 783.41 135.59)"/><path d="M778.40,131.70 C779.14,131.42 782.29,129.38 782.85,130.03 C783.41,130.68 782.20,133.83 781.74,135.59 C781.28,137.35 780.35,139.76 780.07,140.60" fill="none" stroke="#a87874" stroke-width="0.9"/><circle cx="765.59" cy="137.82" r="1.5" fill="#111"/></g>
<use href="#lean" transform="translate(3,90)"/>
<g id="fat"><path d="M850.76,351.20 C853.54,350.33 861.88,350.63 867.45,350.09 C873.02,349.55 878.49,348.14 884.15,347.97 C889.81,347.80 896.58,347.89 901.41,349.08 C906.24,350.27 909.95,352.42 913.10,355.09 C916.25,357.76 919.40,362.18 920.33,365.11 C921.26,368.04 919.35,371.49 918.66,372.68 C917.97,373.87 916.49,373.41 916.21,372.24 C915.93,371.07 917.88,368.01 916.99,365.67 C916.10,363.33 913.65,360.31 910.87,358.21 C908.09,356.11 904.74,354.20 900.29,353.09 C895.84,351.98 889.62,351.38 884.15,351.53 C878.68,351.68 873.02,353.35 867.45,353.98 C861.88,354.61 853.54,355.78 850.76,355.32 C847.98,354.86 847.98,352.07 850.76,351.20Z" fill="#c58f8a"/><path d="M775.95,358.88 C776.97,358.21 781.48,357.36 782.85,357.54 C784.22,357.73 785.21,359.32 784.19,359.99 C783.17,360.66 778.10,361.74 776.73,361.55 C775.36,361.37 774.93,359.55 775.95,358.88Z" fill="#c9908c"/><path d="M813.46,359.77 C815.13,358.73 824.60,355.73 827.38,355.32 C830.16,354.91 831.83,356.28 830.16,357.32 C828.49,358.36 820.14,361.14 817.36,361.55 C814.58,361.96 811.79,360.81 813.46,359.77Z" fill="#c9908c"/><path d="M755.58,348.42 C756.14,346.53 757.89,343.97 759.47,341.74 C761.05,339.51 763.28,337.06 765.04,335.06 C766.80,333.06 769.07,331.42 770.05,329.71 C771.03,328.00 770.14,326.06 770.94,324.82 C771.74,323.58 773.66,322.25 774.83,322.25 C776.00,322.25 777.32,323.84 777.95,324.82 C778.58,325.80 777.80,328.02 778.62,328.15 C779.44,328.28 780.66,326.66 782.85,325.59 C785.04,324.51 788.41,323.09 791.75,321.70 C795.09,320.31 799.18,318.18 802.89,317.25 C806.60,316.32 810.31,316.04 814.02,316.13 C817.73,316.22 821.44,316.59 825.15,317.80 C828.86,319.01 832.94,321.05 836.28,323.37 C839.62,325.69 842.78,328.85 845.19,331.72 C847.60,334.60 849.33,337.65 850.76,340.62 C852.19,343.59 853.54,347.08 853.76,349.53 C853.98,351.98 853.52,353.99 852.09,355.32 C850.66,356.65 848.20,357.17 845.19,357.54 C842.19,357.91 837.77,357.73 834.06,357.54 C830.35,357.36 826.63,356.24 822.92,356.43 C819.21,356.62 815.50,358.10 811.79,358.66 C808.08,359.22 804.37,359.58 800.66,359.77 C796.95,359.95 793.24,360.14 789.53,359.77 C785.82,359.40 782.11,357.91 778.40,357.54 C774.69,357.17 770.41,357.73 767.26,357.54 C764.11,357.36 761.33,357.17 759.47,356.43 C757.62,355.69 756.78,354.42 756.13,353.09 C755.48,351.75 755.02,350.31 755.58,348.42Z" fill="#524a46"/><path d="M779.06,329.27 C780.04,327.86 784.00,326.04 785.97,325.71 C787.94,325.38 790.23,325.85 790.86,327.26 C791.49,328.67 791.05,332.39 789.75,334.17 C788.45,335.95 784.68,337.95 783.07,337.95 C781.46,337.95 780.74,335.62 780.07,334.17 C779.40,332.72 778.08,330.68 779.06,329.27Z" fill="#c9908c"/><circle cx="768.38" cy="342.85" r="1.5" fill="#111"/></g>
<use href="#fat" transform="translate(-3,84.5)"/>
<use href="#fat" transform="translate(426.3,315.2) scale(0.853,0.96)"/>
<use href="#fat" transform="translate(430.8,379) scale(0.853,0.96)"/>
<g id="yng"><path d="M107.51,277.63 C109.29,276.92 114.51,274.67 118.19,273.36 C121.87,272.06 126.60,270.16 129.57,269.80 C132.53,269.44 134.84,270.16 135.98,271.23 C137.12,272.30 137.19,274.79 136.41,276.21 C135.63,277.63 133.01,278.46 131.28,279.77 C129.55,281.07 126.89,283.33 126.01,284.04" fill="none" stroke="#c58f8a" stroke-width="2.2" stroke-linecap="round"/><path d="M64.80,298.99 C63.97,299.70 65.04,303.14 64.09,304.68 C63.14,306.22 59.58,307.34 59.11,308.24 C58.64,309.14 59.83,309.92 61.25,310.09 C62.67,310.25 66.35,310.84 67.65,309.23 C68.95,307.62 69.54,302.12 69.07,300.41 C68.59,298.70 65.63,298.28 64.80,298.99Z" fill="#c9908c"/><path d="M90.43,303.26 C89.53,304.45 90.19,309.78 89.72,311.80 C89.25,313.82 87.46,314.60 87.58,315.36 C87.70,316.12 89.01,316.59 90.43,316.35 C91.85,316.11 95.34,315.88 96.12,313.93 C96.90,311.99 96.07,306.46 95.12,304.68 C94.17,302.90 91.33,302.07 90.43,303.26Z" fill="#c9908c"/><path d="M105.37,287.60 C106.20,287.01 110.78,287.84 111.78,288.31 C112.78,288.78 112.18,289.85 111.35,290.44 C110.52,291.03 107.80,292.34 106.80,291.87 C105.80,291.40 104.54,288.19 105.37,287.60Z" fill="#c9908c"/><path d="M53.42,264.11 C52.59,262.92 56.10,259.53 57.69,257.70 C59.28,255.87 61.84,252.68 62.95,253.15 C64.06,253.62 64.43,258.61 64.38,260.55 C64.33,262.50 64.50,264.23 62.67,264.82 C60.84,265.41 54.25,265.30 53.42,264.11Z" fill="#3b3735"/><path d="M46.73,271.94 C47.56,270.04 50.76,267.79 52.70,266.25 C54.65,264.71 55.55,263.17 58.40,262.69 C61.25,262.21 67.18,263.04 69.79,263.40 C72.40,263.75 71.69,264.70 74.06,264.82 C76.43,264.94 81.41,264.11 84.02,264.11 C86.63,264.11 87.35,264.35 89.72,264.82 C92.09,265.29 95.65,265.30 98.26,266.96 C100.87,268.62 103.71,272.06 105.37,274.79 C107.03,277.52 107.94,280.48 108.22,283.33 C108.50,286.18 108.15,289.45 107.08,291.87 C106.01,294.29 103.52,296.38 101.81,297.85 C100.10,299.32 97.94,299.31 96.83,300.69 C95.72,302.06 96.31,305.08 95.12,306.10 C93.94,307.12 91.09,307.71 89.72,306.81 C88.34,305.91 88.77,302.18 86.87,300.69 C84.97,299.20 81.41,298.18 78.33,297.85 C75.25,297.52 70.38,298.04 68.36,298.70 C66.34,299.36 67.13,301.54 66.23,301.83 C65.33,302.12 64.02,302.07 62.95,300.41 C61.88,298.75 61.53,294.72 59.82,291.87 C58.11,289.02 54.72,285.70 52.70,283.33 C50.68,280.96 48.72,279.53 47.72,277.63 C46.72,275.73 45.90,273.84 46.73,271.94Z" fill="#524a46"/><ellipse cx="81.89" cy="263.4" rx="8" ry="8.8" fill="#524a46"/><ellipse cx="81.89" cy="263.7" rx="6.3" ry="7.2" fill="#c9908c"/><path d="M76.90,271.23 C76.62,272.18 77.33,274.44 78.04,274.79 C78.75,275.15 80.17,274.07 81.17,273.36 C82.17,272.65 84.26,271.23 84.02,270.52 C83.78,269.81 80.94,268.97 79.75,269.09 C78.56,269.21 77.19,270.28 76.90,271.23Z" fill="#b98480"/><circle cx="64.8" cy="269.8" r="1.6" fill="#111"/><circle cx="47.3" cy="272.65" r="1.1" fill="#c9908c"/></g>
<use href="#yng" transform="translate(655.9,420.9) scale(0.875)"/>
<g id="sym" stroke="#d1345c" fill="none" stroke-width="4.1"><circle cx="36.33" cy="247.03" r="12.7"/><path d="M45.87,237.49 L56.98,226.39 M46.73,226.67 L58.4,236.07"/></g>
<use href="#sym" transform="translate(666.2,493.3) scale(0.6)"/>
<g id="livr"><path d="M981.90,164.48 C981.30,163.96 980.43,162.50 980.86,159.83 C981.29,157.16 982.84,152.42 984.48,148.45 C986.12,144.48 988.28,139.82 990.69,136.03 C993.10,132.24 995.86,128.45 998.96,125.69 C1002.06,122.93 1005.17,121.20 1009.31,119.48 C1013.45,117.76 1020.00,115.94 1023.79,115.34 C1027.58,114.74 1030.00,115.60 1032.07,115.86 C1034.14,116.12 1034.65,116.73 1036.20,116.90 C1037.75,117.07 1039.66,116.30 1041.38,116.90 C1043.11,117.50 1044.65,118.54 1046.55,120.52 C1048.45,122.50 1050.35,125.51 1052.76,128.79 C1055.17,132.06 1058.44,136.20 1061.03,140.17 C1063.62,144.13 1066.55,149.13 1068.27,152.58 C1069.99,156.03 1071.21,158.79 1071.38,160.86 C1071.55,162.93 1071.03,163.62 1069.31,165.00 C1067.59,166.38 1064.13,167.76 1061.03,169.14 C1057.93,170.52 1054.14,172.50 1050.69,173.27 C1047.24,174.05 1043.44,173.96 1040.34,173.79 C1037.24,173.62 1034.65,173.36 1032.07,172.24 C1029.48,171.12 1027.07,168.97 1024.83,167.07 C1022.59,165.17 1020.35,162.41 1018.62,160.86 C1016.89,159.31 1016.38,157.93 1014.48,157.76 C1012.58,157.59 1009.83,159.23 1007.24,159.83 C1004.65,160.43 1001.20,161.38 998.96,161.38 C996.72,161.38 995.17,160.78 993.79,159.83 C992.41,158.88 991.72,156.03 990.69,155.69 C989.66,155.34 988.62,156.55 987.59,157.76 C986.56,158.97 985.43,161.81 984.48,162.93 C983.53,164.05 982.50,165.00 981.90,164.48Z" fill="#c2695d" stroke="#b2544a" stroke-width="0.8"/><path d="M1036.20,116.90 C1035.89,118.37 1035.20,122.50 1034.34,125.69 C1033.48,128.88 1032.44,132.58 1031.03,136.03 C1029.62,139.48 1027.76,143.28 1025.86,146.38 C1023.96,149.48 1021.37,152.72 1019.65,154.65 C1017.93,156.58 1016.21,157.41 1015.52,157.96" fill="none" stroke="#b2544a" stroke-width="1.8"/><path d="M1026.38,145.86 C1027.67,146.29 1031.12,147.67 1034.14,148.45 C1037.16,149.23 1041.55,150.69 1044.48,150.52 C1047.41,150.35 1049.82,148.96 1051.72,147.41 C1053.62,145.86 1055.69,144.14 1055.86,141.21 C1056.03,138.28 1053.28,131.73 1052.76,129.83" fill="none" stroke="#b2544a" stroke-width="1.6"/><path d="M991.72,135.00 C990.95,137.59 987.45,147.21 987.07,150.52 C986.69,153.83 989.05,154.14 989.45,154.86" fill="none" stroke="#b2544a" stroke-width="1.6"/></g>
<use href="#livr" transform="translate(3,96.9)"/>
<defs><g id="livb"><path d="M981.90,164.48 C981.30,163.96 980.43,162.50 980.86,159.83 C981.29,157.16 982.84,152.42 984.48,148.45 C986.12,144.48 988.28,139.82 990.69,136.03 C993.10,132.24 995.86,128.45 998.96,125.69 C1002.06,122.93 1005.17,121.20 1009.31,119.48 C1013.45,117.76 1020.00,115.94 1023.79,115.34 C1027.58,114.74 1030.00,115.60 1032.07,115.86 C1034.14,116.12 1034.65,116.73 1036.20,116.90 C1037.75,117.07 1039.66,116.30 1041.38,116.90 C1043.11,117.50 1044.65,118.54 1046.55,120.52 C1048.45,122.50 1050.35,125.51 1052.76,128.79 C1055.17,132.06 1058.44,136.20 1061.03,140.17 C1063.62,144.13 1066.55,149.13 1068.27,152.58 C1069.99,156.03 1071.21,158.79 1071.38,160.86 C1071.55,162.93 1071.03,163.62 1069.31,165.00 C1067.59,166.38 1064.13,167.76 1061.03,169.14 C1057.93,170.52 1054.14,172.50 1050.69,173.27 C1047.24,174.05 1043.44,173.96 1040.34,173.79 C1037.24,173.62 1034.65,173.36 1032.07,172.24 C1029.48,171.12 1027.07,168.97 1024.83,167.07 C1022.59,165.17 1020.35,162.41 1018.62,160.86 C1016.89,159.31 1016.38,157.93 1014.48,157.76 C1012.58,157.59 1009.83,159.23 1007.24,159.83 C1004.65,160.43 1001.20,161.38 998.96,161.38 C996.72,161.38 995.17,160.78 993.79,159.83 C992.41,158.88 991.72,156.03 990.69,155.69 C989.66,155.34 988.62,156.55 987.59,157.76 C986.56,158.97 985.43,161.81 984.48,162.93 C983.53,164.05 982.50,165.00 981.90,164.48Z" fill="#b5805f" stroke="#a57255" stroke-width="0.8"/><path d="M1036.20,116.90 C1035.89,118.37 1035.20,122.50 1034.34,125.69 C1033.48,128.88 1032.44,132.58 1031.03,136.03 C1029.62,139.48 1027.76,143.28 1025.86,146.38 C1023.96,149.48 1021.37,152.72 1019.65,154.65 C1017.93,156.58 1016.21,157.41 1015.52,157.96" fill="none" stroke="#a57255" stroke-width="1.8"/><path d="M1026.38,145.86 C1027.67,146.29 1031.12,147.67 1034.14,148.45 C1037.16,149.23 1041.55,150.69 1044.48,150.52 C1047.41,150.35 1049.82,148.96 1051.72,147.41 C1053.62,145.86 1055.69,144.14 1055.86,141.21 C1056.03,138.28 1053.28,131.73 1052.76,129.83" fill="none" stroke="#a57255" stroke-width="1.6"/><path d="M991.72,135.00 C990.95,137.59 987.45,147.21 987.07,150.52 C986.69,153.83 989.05,154.14 989.45,154.86" fill="none" stroke="#a57255" stroke-width="1.6"/></g></defs>
<use href="#livb" transform="translate(-65.1,194.1) scale(1.07,1.09)"/>
<use href="#livb" transform="translate(-68,292.7) scale(1.07,1.09)"/>
<path d="M912.6,143.4 L963.2,142.25 V136.4 L977.2,143.4 L963.2,150.4 V144.55Z" fill="#1a6ea6"/>
<path d="M920,241.5 L967,240.35 V234.5 L981,241.5 L967,248.5 V242.65Z" fill="#1a6ea6"/>
<path d="M918.8,350.9 L967,349.75 V343.9 L981,350.9 L967,357.9 V352.04999999999995Z" fill="#ecc81d"/>
<path d="M928.8,449 L965.7,447.85 V442 L979.7,449 L965.7,456 V450.15Z" fill="#ecc81d"/>
<path d="M1240.68,124.13 L1262.04,124.13 L1262.04,147.82 L1240.68,147.82Z" fill="#d6d4d4"/>
<path d="M1262.04,133.83 L1295.05,133.83 L1295.05,145.87 L1262.04,145.87Z" fill="#dfdddd"/>
<path d="M1261.65,103.54 L1303.01,104.71 L1303.59,133.06 L1262.62,135.19Z" fill="#cfcfcf"/>
<path d="M1264.95,105.68 L1300.10,106.65 L1300.49,131.12 L1265.73,133.06Z" fill="#6a6a6a"/>
<path d="M1282.04,106.07 L1292.52,106.46 L1277.77,132.09 L1268.06,132.67Z" fill="#c4c4c4"/>
<path d="M1240.68,147.43 L1294.08,143.16 L1314.85,148.40 L1314.85,152.48 L1263.98,157.52 L1240.68,151.70Z" fill="#aaaaaa"/>
<path d="M1274.27,146.65 L1291.75,145.49 L1295.63,150.15 L1278.54,151.70Z" fill="#7d7d7d"/>
<path d="M1240.68,151.31 L1263.98,157.14 L1314.85,152.09 L1314.85,155.19 L1263.98,160.63 L1240.68,154.42Z" fill="#8b8b8b"/>
<path d="M1240.68,154.22 L1263.98,160.44 L1314.85,155.00 L1314.85,160.24 L1263.98,166.07 L1240.68,159.27Z" fill="#7bdcc2"/>
<path d="M1240.68,159.08 L1263.98,165.87 L1314.85,160.05 L1314.85,164.51 L1263.98,171.12 L1240.68,163.35Z" fill="#ececec"/>
<path d="M1263.98,170.73 L1314.85,164.13 L1314.85,167.23 L1263.98,174.03Z" fill="#2a2a2a"/>
<path d="M1263.98,173.64 L1314.85,166.84 L1314.85,221.60 L1263.98,231.31Z" fill="#dad8d8"/>
<path d="M1240.68,162.96 L1263.98,170.73 L1263.98,231.31 L1240.68,211.89Z" fill="#cdcbcb"/>
<path d="M1240.68,211.50 L1263.98,230.92 L1314.85,221.21 L1314.85,224.32 L1263.98,235.19 L1240.68,215.39Z" fill="#555"/>
<path d="M1241.65,180.44 L1263.01,188.20" fill="none" stroke="#c0bebe" stroke-width="0.8"/>
<rect x="1347.5" y="116.1" width="17.6" height="11.41" fill="#f07a2e"/>
<rect x="1366.1" y="116.1" width="17.6" height="11.41" fill="#f5a52a"/>
<rect x="1384.7" y="116.1" width="17.6" height="11.41" fill="#f7d520"/>
<rect x="1403.3" y="116.1" width="17.6" height="11.41" fill="#ee6e3a"/>
<rect x="1421.9" y="116.1" width="17.6" height="11.41" fill="#a6db2a"/>
<rect x="1347.5" y="128.5" width="17.6" height="11.41" fill="#f49a2e"/>
<rect x="1366.1" y="128.5" width="17.6" height="11.41" fill="#cde22a"/>
<rect x="1384.7" y="128.5" width="17.6" height="11.41" fill="#f5e625"/>
<rect x="1403.3" y="128.5" width="17.6" height="11.41" fill="#f8d92a"/>
<rect x="1421.9" y="128.5" width="17.6" height="11.41" fill="#cfe32c"/>
<rect x="1347.5" y="140.9" width="17.6" height="11.41" fill="#ee4530"/>
<rect x="1366.1" y="140.9" width="17.6" height="11.41" fill="#f0702e"/>
<rect x="1384.7" y="140.9" width="17.6" height="11.41" fill="#f5a830"/>
<rect x="1403.3" y="140.9" width="17.6" height="11.41" fill="#f39a35"/>
<rect x="1421.9" y="140.9" width="17.6" height="11.41" fill="#12932a"/>
<rect x="1347.5" y="153.3" width="17.6" height="11.41" fill="#ee4030"/>
<rect x="1366.1" y="153.3" width="17.6" height="11.41" fill="#ee4530"/>
<rect x="1384.7" y="153.3" width="17.6" height="11.41" fill="#f9d220"/>
<rect x="1403.3" y="153.3" width="17.6" height="11.41" fill="#f39a35"/>
<rect x="1421.9" y="153.3" width="17.6" height="11.41" fill="#a2dc2a"/>
<rect x="1347.5" y="165.7" width="17.6" height="11.41" fill="#ee4030"/>
<rect x="1366.1" y="165.7" width="17.6" height="11.41" fill="#ee4a30"/>
<rect x="1384.7" y="165.7" width="17.6" height="11.41" fill="#f9d220"/>
<rect x="1403.3" y="165.7" width="17.6" height="11.41" fill="#f7d225"/>
<rect x="1421.9" y="165.7" width="17.6" height="11.41" fill="#f5e830"/>
<rect x="1347.5" y="178.1" width="17.6" height="11.41" fill="#f9d020"/>
<rect x="1366.1" y="178.1" width="17.6" height="11.41" fill="#ef6e30"/>
<rect x="1384.7" y="178.1" width="17.6" height="11.41" fill="#3ebb28"/>
<rect x="1403.3" y="178.1" width="17.6" height="11.41" fill="#f7e42a"/>
<rect x="1421.9" y="178.1" width="17.6" height="11.41" fill="#f59a35"/>
<rect x="1347.5" y="190.6" width="17.6" height="11.41" fill="#17972a"/>
<rect x="1366.1" y="190.6" width="17.6" height="11.41" fill="#f5e030"/>
<rect x="1384.7" y="190.6" width="17.6" height="11.41" fill="#a6dd2e"/>
<rect x="1403.3" y="190.6" width="17.6" height="11.41" fill="#f8e028"/>
<rect x="1421.9" y="190.6" width="17.6" height="11.41" fill="#f7a830"/>
<rect x="1347.5" y="203.0" width="17.6" height="11.41" fill="#15922a"/>
<rect x="1366.1" y="203.0" width="17.6" height="11.41" fill="#2db228"/>
<rect x="1384.7" y="203.0" width="17.6" height="11.41" fill="#12902a"/>
<rect x="1403.3" y="203.0" width="17.6" height="11.41" fill="#f8e028"/>
<rect x="1421.9" y="203.0" width="17.6" height="11.41" fill="#f59a35"/>
<rect x="1347.5" y="215.4" width="17.6" height="11.41" fill="#0e8526"/>
<rect x="1366.1" y="215.4" width="17.6" height="11.41" fill="#1d9a28"/>
<rect x="1384.7" y="215.4" width="17.6" height="11.41" fill="#ee4530"/>
<rect x="1403.3" y="215.4" width="17.6" height="11.41" fill="#f9d328"/>
<rect x="1421.9" y="215.4" width="17.6" height="11.41" fill="#f07038"/>
<rect x="1347.5" y="227.8" width="17.6" height="11.41" fill="#0a7020"/>
<rect x="1366.1" y="227.8" width="17.6" height="11.41" fill="#12852a"/>
<rect x="1384.7" y="227.8" width="17.6" height="11.41" fill="#0a7020"/>
<rect x="1403.3" y="227.8" width="17.6" height="11.41" fill="#0c7822"/>
<rect x="1421.9" y="227.8" width="17.6" height="11.41" fill="#3fbf28"/>
<path d="M1384.6,115 V101.6 H1414.8 V115 M1370.4,115 V108.3 H1399.4 M1399.4,101.6 V108.3 M1343,154.2 H1330 V214.6 H1343" stroke="#555" stroke-width="0.8" fill="none"/>
<rect x="1446" y="100.4" width="53.6" height="5.4" fill="url(#lg)"/>
<text x="1473" y="97.2" font-size="4" font-weight="normal" fill="#666" text-anchor="middle">color range</text>
<text x="1445.6" y="123.19999999999999" font-size="3.7" font-weight="normal" fill="#777">Label 1</text>
<text x="1445.6" y="135.60999999999999" font-size="3.7" font-weight="normal" fill="#777">Label 2</text>
<text x="1445.6" y="148.01999999999998" font-size="3.7" font-weight="normal" fill="#777">Label 3</text>
<text x="1445.6" y="160.42999999999998" font-size="3.7" font-weight="normal" fill="#777">Label 4</text>
<text x="1445.6" y="172.84" font-size="3.7" font-weight="normal" fill="#777">Label 5</text>
<text x="1445.6" y="185.24999999999997" font-size="3.7" font-weight="normal" fill="#777">Label 6</text>
<text x="1445.6" y="197.66" font-size="3.7" font-weight="normal" fill="#777">Label 7</text>
<text x="1445.6" y="210.07" font-size="3.7" font-weight="normal" fill="#777">Label 8</text>
<text x="1445.6" y="222.48" font-size="3.7" font-weight="normal" fill="#777">Label 9</text>
<text x="1445.6" y="234.89" font-size="3.7" font-weight="normal" fill="#777">Label 10</text>
<text transform="translate(1357.6,258) rotate(-90)" font-size="3.7" fill="#777">Sample 1</text>
<text transform="translate(1376.2,258) rotate(-90)" font-size="3.7" fill="#777">Sample 2</text>
<text transform="translate(1394.8,258) rotate(-90)" font-size="3.7" fill="#777">Sample 3</text>
<text transform="translate(1413.4,258) rotate(-90)" font-size="3.7" fill="#777">Sample 4</text>
<text transform="translate(1432.0,258) rotate(-90)" font-size="3.7" fill="#777">Sample 5</text>
<path d="M1275.58,354.13 L1280.83,356.46 L1292.48,377.43 L1292.48,406.94 L1280.44,406.94 L1278.88,383.25 L1271.70,363.83Z" fill="#e6e6e6"/>
<rect x="1247.43" y="336.65" width="28.2" height="26.2" rx="5" fill="#d4d4d4"/>
<rect x="1247.43" y="336.65" width="12.0" height="26.2" rx="4" fill="#f3f3f3"/>
<path d="M1249.37,348.88 L1257.33,348.88 L1257.33,354.32 L1249.37,354.32Z" fill="#2a80d2"/>
<path d="M1250.15,355.68 L1256.36,356.46 L1256.36,358.01 L1250.15,357.23Z" fill="#333"/>
<path d="M1275.58,341.50 L1280.05,342.86 L1280.44,352.57 L1275.58,352.18Z" fill="#3a3a3a"/>
<path d="M1256.17,363.45 L1270.15,363.45 L1270.15,366.94 L1256.17,366.94Z" fill="#666"/>
<path d="M1251.31,366.94 L1271.70,366.94 L1271.70,372.57 L1251.31,372.57Z" fill="#e9e9e9"/>
<path d="M1243.54,372.38 L1271.12,371.41 L1271.12,375.87 L1243.54,376.65Z" fill="#8f8f8f"/>
<path d="M1257.14,376.46 L1269.95,376.46 L1269.95,383.25 L1263.54,385.58 L1257.14,383.25Z" fill="#e1e1e1"/>
<circle cx="1278.5" cy="368.69" r="2.9" fill="#3a3a3a"/>
<path d="M1220.24,397.23 L1236.75,381.31 L1251.70,383.25 L1251.70,406.94 L1240.05,422.48 L1222.18,422.48 L1217.91,410.44Z" fill="#ededed"/>
<path d="M1236.75,381.31 L1251.70,383.25 L1251.70,402.67 L1240.05,418.59 L1236.75,406.55Z" fill="#c9c9c9"/>
<path d="M1214.03,375.87 L1226.07,381.31" stroke="#2c2c2c" stroke-width="6.2" stroke-linecap="round"/>
<path d="M1207.04,378.59 L1233.83,390.63" stroke="#2f2f2f" stroke-width="8.6" stroke-linecap="round"/>
<path d="M1219.85,383.25 L1224.13,385.58" stroke="#e4e4e4" stroke-width="5"/>
<path d="M1222.18,422.09 L1240.05,422.09 L1251.70,406.55 L1259.47,408.50 L1259.47,459.37 L1226.07,464.03 L1222.77,458.98 L1224.13,433.74Z" fill="#e9e9e9"/>
<path d="M1259.08,409.47 L1282.77,408.50 L1282.77,434.13 L1259.08,436.07Z" fill="#8c8c8c"/>
<path d="M1261.99,412.38 L1272.67,411.99 L1272.67,422.09 L1261.99,423.06Z" fill="#cfcfcf"/>
<circle cx="1271.12" cy="425.97" r="3" fill="#333"/>
<path d="M1282.38,408.50 L1300.24,407.52 L1306.07,451.21 L1282.38,455.49Z" fill="#dadada"/>
<path d="M1286.26,416.26 L1299.85,415.29 L1301.02,426.36 L1287.43,428.30Z" fill="#3d3d3d"/>
<path d="M1281.41,410.44 L1284.71,410.44 L1284.71,441.50 L1281.41,441.50Z" fill="#555"/>
<path d="M1259.08,435.68 L1282.77,433.74 L1282.77,455.49 L1259.08,459.37Z" fill="#efefef"/>
<path d="M1248.01,401.70 L1290.53,400.53 L1291.50,405.78 L1259.08,407.72 L1251.31,409.85 L1247.04,405.78Z" fill="#353535"/>
<ellipse cx="1266.26" cy="448.3" rx="5.6" ry="5.4" fill="#3a3a3a"/><circle cx="1267.46" cy="448.90000000000003" r="2.6" fill="#666"/>
<circle cx="1230.53" cy="413.93" r="1.3" fill="#444"/>
<path d="M1226.07,458.98 L1233.83,458.20 L1233.83,460.15 L1226.07,460.92Z" fill="#777"/>
<path d="M1292,376.5 L1335,353.5 M1301,426 L1341,439.5" stroke="#555" stroke-width="0.9" stroke-dasharray="2.2 1.4" fill="none"/>
<clipPath id="hc"><circle cx="1365.9" cy="395.5" r="50.5"/></clipPath>
<g clip-path="url(#hc)"><circle cx="1365.9" cy="395.5" r="50.5" fill="#7a62ad"/><circle cx="1368.7" cy="432.3" r="2.7" fill="#875aa8"/><circle cx="1328.3" cy="401.7" r="3.3" fill="#7461aa"/><circle cx="1364.5" cy="419.7" r="4.2" fill="#7461aa"/><circle cx="1330.1" cy="386.1" r="2.8" fill="#6a56a4"/><circle cx="1368.1" cy="414.8" r="4.0" fill="#7461aa"/><circle cx="1363.6" cy="354.6" r="2.0" fill="#875aa8"/><circle cx="1408.5" cy="407.2" r="3.8" fill="#9670b6"/><circle cx="1324.1" cy="402.7" r="3.9" fill="#6f64b4"/><circle cx="1373.6" cy="363.8" r="3.5" fill="#875aa8"/><circle cx="1320.4" cy="412.0" r="3.9" fill="#8a6cb6"/><circle cx="1400.2" cy="403.4" r="2.4" fill="#6f64b4"/><circle cx="1329.5" cy="411.0" r="2.5" fill="#875aa8"/><circle cx="1384.9" cy="362.7" r="3.1" fill="#7461aa"/><circle cx="1324.9" cy="371.5" r="3.4" fill="#8a6cb6"/><circle cx="1396.7" cy="356.4" r="3.4" fill="#6a56a4"/><circle cx="1356.8" cy="368.4" r="3.1" fill="#875aa8"/><circle cx="1327.6" cy="377.7" r="2.3" fill="#875aa8"/><circle cx="1364.0" cy="413.0" r="3.0" fill="#6f64b4"/><circle cx="1380.7" cy="394.5" r="3.7" fill="#7461aa"/><circle cx="1371.6" cy="391.2" r="2.8" fill="#7461aa"/><circle cx="1373.2" cy="388.0" r="3.3" fill="#8a6cb6"/><circle cx="1338.4" cy="422.1" r="3.1" fill="#9670b6"/><circle cx="1316.0" cy="393.8" r="2.5" fill="#8a6cb6"/><circle cx="1394.4" cy="418.5" r="4.1" fill="#7461aa"/><circle cx="1359.3" cy="420.3" r="3.5" fill="#9670b6"/><circle cx="1346.8" cy="440.6" r="4.0" fill="#7461aa"/><circle cx="1332.6" cy="428.1" r="2.7" fill="#875aa8"/><circle cx="1359.2" cy="381.0" r="4.1" fill="#875aa8"/><circle cx="1360.6" cy="435.0" r="3.5" fill="#9670b6"/><circle cx="1342.4" cy="405.2" r="2.5" fill="#9670b6"/><circle cx="1398.0" cy="397.8" r="3.2" fill="#8a6cb6"/><circle cx="1338.5" cy="422.4" r="2.1" fill="#6f64b4"/><circle cx="1342.1" cy="371.0" r="3.4" fill="#9670b6"/><circle cx="1345.4" cy="378.8" r="3.0" fill="#875aa8"/><circle cx="1404.1" cy="410.8" r="4.1" fill="#9670b6"/><circle cx="1346.9" cy="375.8" r="3.2" fill="#6a56a4"/><circle cx="1347.6" cy="416.6" r="2.7" fill="#875aa8"/><circle cx="1362.0" cy="439.7" r="2.1" fill="#8a6cb6"/><circle cx="1406.6" cy="388.1" r="2.1" fill="#875aa8"/><circle cx="1373.6" cy="439.7" r="2.4" fill="#6a56a4"/><circle cx="1348.3" cy="359.3" r="2.0" fill="#875aa8"/><circle cx="1353.3" cy="421.5" r="3.8" fill="#7461aa"/><circle cx="1383.9" cy="349.9" r="2.0" fill="#6f64b4"/><circle cx="1338.3" cy="357.4" r="2.9" fill="#6a56a4"/><circle cx="1368.0" cy="386.5" r="4.1" fill="#9670b6"/><circle cx="1381.9" cy="352.6" r="2.2" fill="#9670b6"/><circle cx="1341.5" cy="433.9" r="2.0" fill="#875aa8"/><circle cx="1355.8" cy="410.4" r="2.5" fill="#9670b6"/><circle cx="1327.1" cy="404.3" r="2.5" fill="#875aa8"/><circle cx="1325.5" cy="421.3" r="2.2" fill="#8a6cb6"/><circle cx="1320.7" cy="402.0" r="3.3" fill="#875aa8"/><circle cx="1321.3" cy="415.0" r="4.0" fill="#6a56a4"/><circle cx="1399.0" cy="402.3" r="3.6" fill="#6f64b4"/><circle cx="1339.2" cy="392.3" r="2.6" fill="#6a56a4"/><circle cx="1395.8" cy="360.1" r="4.1" fill="#8a6cb6"/><circle cx="1369.8" cy="385.6" r="4.0" fill="#6f64b4"/><circle cx="1343.7" cy="393.8" r="3.9" fill="#7461aa"/><circle cx="1360.8" cy="392.8" r="3.6" fill="#6a56a4"/><circle cx="1341.5" cy="395.0" r="1.8" fill="#875aa8"/><circle cx="1324.4" cy="420.5" r="3.3" fill="#9670b6"/><circle cx="1400.7" cy="430.4" r="3.1" fill="#8a6cb6"/><circle cx="1352.6" cy="413.3" r="3.1" fill="#8a6cb6"/><circle cx="1387.0" cy="434.7" r="4.0" fill="#6a56a4"/><circle cx="1367.8" cy="391.6" r="3.3" fill="#7461aa"/><circle cx="1390.7" cy="403.5" r="2.4" fill="#875aa8"/><circle cx="1354.7" cy="394.1" r="2.6" fill="#8a6cb6"/><circle cx="1393.3" cy="361.1" r="1.9" fill="#8a6cb6"/><circle cx="1410.8" cy="416.1" r="3.9" fill="#8a6cb6"/><circle cx="1331.1" cy="392.1" r="2.2" fill="#8a6cb6"/><circle cx="1342.0" cy="427.8" r="3.2" fill="#9670b6"/><circle cx="1361.2" cy="445.0" r="2.8" fill="#6a56a4"/><circle cx="1326.1" cy="381.0" r="2.7" fill="#8a6cb6"/><circle cx="1356.4" cy="391.3" r="2.9" fill="#6f64b4"/><circle cx="1372.2" cy="365.3" r="3.7" fill="#875aa8"/><circle cx="1374.6" cy="388.0" r="3.3" fill="#6f64b4"/><circle cx="1346.6" cy="440.2" r="2.8" fill="#8a6cb6"/><circle cx="1367.0" cy="432.1" r="3.5" fill="#8a6cb6"/><circle cx="1373.7" cy="373.1" r="2.1" fill="#8a6cb6"/><circle cx="1394.1" cy="383.6" r="4.0" fill="#9670b6"/><circle cx="1395.9" cy="424.2" r="4.1" fill="#6f64b4"/><circle cx="1341.2" cy="355.4" r="3.7" fill="#6f64b4"/><circle cx="1387.8" cy="413.3" r="3.1" fill="#875aa8"/><circle cx="1358.7" cy="361.8" r="2.4" fill="#7461aa"/><circle cx="1380.5" cy="399.7" r="2.0" fill="#7461aa"/><circle cx="1369.2" cy="402.4" r="3.8" fill="#8a6cb6"/><circle cx="1382.6" cy="398.2" r="3.0" fill="#6f64b4"/><circle cx="1402.3" cy="384.3" r="3.7" fill="#8a6cb6"/><circle cx="1403.4" cy="394.6" r="3.1" fill="#6a56a4"/><circle cx="1399.8" cy="422.4" r="4.0" fill="#8a6cb6"/><circle cx="1321.6" cy="381.1" r="2.2" fill="#8a6cb6"/><circle cx="1366.9" cy="416.7" r="2.4" fill="#875aa8"/><circle cx="1350.9" cy="349.3" r="2.4" fill="#875aa8"/><circle cx="1342.3" cy="413.4" r="2.8" fill="#8a6cb6"/><circle cx="1348.7" cy="412.6" r="4.0" fill="#6f64b4"/><circle cx="1397.4" cy="388.9" r="3.2" fill="#875aa8"/><circle cx="1349.3" cy="363.6" r="3.0" fill="#6f64b4"/><circle cx="1327.6" cy="422.9" r="2.2" fill="#7461aa"/><circle cx="1365.3" cy="347.6" r="3.0" fill="#7461aa"/><circle cx="1326.2" cy="371.6" r="2.1" fill="#6a56a4"/><circle cx="1387.6" cy="424.1" r="4.0" fill="#6f64b4"/><circle cx="1323.0" cy="385.1" r="3.4" fill="#7461aa"/><circle cx="1334.3" cy="374.0" r="4.2" fill="#6a56a4"/><circle cx="1356.8" cy="419.7" r="3.7" fill="#6a56a4"/><circle cx="1380.0" cy="422.0" r="2.6" fill="#6a56a4"/><circle cx="1329.5" cy="416.0" r="3.5" fill="#6a56a4"/><circle cx="1321.1" cy="404.6" r="3.8" fill="#875aa8"/><circle cx="1415.0" cy="404.1" r="2.0" fill="#7461aa"/><circle cx="1375.6" cy="349.6" r="1.9" fill="#6a56a4"/><circle cx="1397.1" cy="370.0" r="3.7" fill="#8a6cb6"/><circle cx="1410.6" cy="383.6" r="2.4" fill="#6a56a4"/><circle cx="1368.9" cy="377.2" r="3.3" fill="#6f64b4"/><circle cx="1395.8" cy="358.7" r="2.4" fill="#8a6cb6"/><circle cx="1353.3" cy="425.5" r="3.5" fill="#8a6cb6"/><circle cx="1384.9" cy="412.9" r="4.0" fill="#8a6cb6"/><circle cx="1342.2" cy="425.4" r="3.4" fill="#8a6cb6"/><circle cx="1394.2" cy="400.8" r="2.7" fill="#8a6cb6"/><circle cx="1375.4" cy="432.5" r="4.1" fill="#7461aa"/><circle cx="1385.8" cy="415.5" r="3.9" fill="#8a6cb6"/><circle cx="1357.4" cy="381.0" r="3.9" fill="#9670b6"/><circle cx="1405.7" cy="423.2" r="2.7" fill="#9670b6"/><circle cx="1367.1" cy="368.3" r="3.4" fill="#6f64b4"/><circle cx="1408.4" cy="380.0" r="2.1" fill="#9670b6"/><circle cx="1348.8" cy="363.1" r="2.1" fill="#7461aa"/><circle cx="1353.7" cy="394.8" r="2.5" fill="#6f64b4"/><circle cx="1346.4" cy="386.9" r="3.3" fill="#6f64b4"/><circle cx="1383.9" cy="420.1" r="4.0" fill="#7461aa"/><circle cx="1400.4" cy="429.2" r="2.1" fill="#9670b6"/><circle cx="1341.2" cy="363.7" r="2.8" fill="#9670b6"/><circle cx="1345.6" cy="368.5" r="2.5" fill="#6a56a4"/><circle cx="1361.4" cy="379.8" r="2.2" fill="#875aa8"/><circle cx="1324.5" cy="384.0" r="2.7" fill="#9670b6"/><circle cx="1364.4" cy="407.0" r="2.1" fill="#7461aa"/><circle cx="1341.1" cy="394.8" r="3.6" fill="#9670b6"/><circle cx="1400.3" cy="361.2" r="2.9" fill="#8a6cb6"/><circle cx="1338.2" cy="432.2" r="2.1" fill="#9670b6"/><circle cx="1331.1" cy="373.4" r="3.2" fill="#6f64b4"/><circle cx="1397.7" cy="422.6" r="3.2" fill="#6f64b4"/><circle cx="1364.0" cy="350.4" r="3.6" fill="#875aa8"/><circle cx="1329.8" cy="366.4" r="3.7" fill="#875aa8"/><circle cx="1328.8" cy="389.0" r="2.3" fill="#9670b6"/><circle cx="1347.4" cy="415.3" r="3.8" fill="#7461aa"/><circle cx="1403.7" cy="364.7" r="2.7" fill="#875aa8"/><circle cx="1389.0" cy="380.0" r="3.0" fill="#875aa8"/><circle cx="1355.3" cy="370.3" r="3.9" fill="#7461aa"/><circle cx="1387.3" cy="399.6" r="3.3" fill="#8a6cb6"/><circle cx="1371.1" cy="355.2" r="3.0" fill="#875aa8"/><circle cx="1350.1" cy="379.7" r="3.7" fill="#6a56a4"/><circle cx="1400.3" cy="403.7" r="3.4" fill="#7461aa"/><circle cx="1386.2" cy="412.7" r="3.4" fill="#6a56a4"/><circle cx="1395.2" cy="429.0" r="3.3" fill="#8a6cb6"/><circle cx="1404.7" cy="401.8" r="3.0" fill="#7461aa"/><circle cx="1319.1" cy="383.8" r="2.6" fill="#9670b6"/><circle cx="1359.7" cy="378.3" r="3.9" fill="#875aa8"/><circle cx="1367.4" cy="386.4" r="2.0" fill="#9670b6"/><circle cx="1388.5" cy="395.2" r="2.0" fill="#6a56a4"/><circle cx="1325.8" cy="412.3" r="3.0" fill="#8a6cb6"/><circle cx="1373.2" cy="364.4" r="3.8" fill="#6f64b4"/><circle cx="1384.6" cy="425.4" r="3.5" fill="#875aa8"/><circle cx="1379.5" cy="377.2" r="3.0" fill="#8a6cb6"/><circle cx="1323.5" cy="405.2" r="2.8" fill="#6a56a4"/><circle cx="1356.6" cy="398.2" r="2.4" fill="#9670b6"/><circle cx="1337.4" cy="405.2" r="2.8" fill="#8a6cb6"/><circle cx="1374.4" cy="371.5" r="2.7" fill="#7461aa"/><circle cx="1346.4" cy="391.3" r="1.9" fill="#875aa8"/><circle cx="1349.0" cy="407.2" r="1.9" fill="#8a6cb6"/><circle cx="1340.1" cy="374.5" r="2.2" fill="#8a6cb6"/><circle cx="1342.8" cy="411.6" r="1.9" fill="#6f64b4"/><circle cx="1396.0" cy="405.5" r="2.8" fill="#8a6cb6"/><circle cx="1405.4" cy="370.1" r="2.4" fill="#7461aa"/><circle cx="1345.9" cy="398.7" r="3.3" fill="#9670b6"/><circle cx="1398.8" cy="375.4" r="3.7" fill="#9670b6"/><circle cx="1358.9" cy="439.3" r="2.9" fill="#9670b6"/><circle cx="1328.5" cy="398.2" r="1.9" fill="#9670b6"/><circle cx="1345.7" cy="374.2" r="2.0" fill="#6f64b4"/><circle cx="1352.2" cy="401.4" r="3.3" fill="#8a6cb6"/><circle cx="1380.7" cy="398.3" r="2.2" fill="#8a6cb6"/><circle cx="1344.3" cy="398.0" r="3.0" fill="#9670b6"/><circle cx="1380.9" cy="442.5" r="2.9" fill="#7461aa"/><circle cx="1408.0" cy="371.4" r="1.9" fill="#9670b6"/><circle cx="1366.3" cy="355.8" r="2.7" fill="#9670b6"/><circle cx="1378.8" cy="424.9" r="3.0" fill="#875aa8"/><circle cx="1345.1" cy="431.1" r="4.0" fill="#6a56a4"/><circle cx="1390.2" cy="355.9" r="2.7" fill="#875aa8"/><circle cx="1352.3" cy="412.1" r="3.7" fill="#7461aa"/><circle cx="1371.6" cy="439.3" r="3.0" fill="#9670b6"/><circle cx="1381.2" cy="363.4" r="3.6" fill="#6f64b4"/><circle cx="1349.9" cy="349.5" r="1.9" fill="#6a56a4"/><circle cx="1364.0" cy="388.2" r="2.9" fill="#6f64b4"/><circle cx="1359.0" cy="381.5" r="2.4" fill="#6f64b4"/><circle cx="1402.6" cy="409.1" r="1.9" fill="#7461aa"/><circle cx="1400.0" cy="369.7" r="2.6" fill="#9670b6"/><circle cx="1388.0" cy="395.7" r="3.7" fill="#8a6cb6"/><circle cx="1351.2" cy="419.2" r="2.9" fill="#6f64b4"/><circle cx="1376.1" cy="435.7" r="4.1" fill="#6f64b4"/><circle cx="1396.8" cy="434.3" r="2.1" fill="#9670b6"/><circle cx="1388.9" cy="390.7" r="3.1" fill="#7461aa"/><circle cx="1318.3" cy="394.0" r="2.6" fill="#875aa8"/><circle cx="1372.8" cy="362.0" r="3.3" fill="#8a6cb6"/><circle cx="1373.6" cy="380.6" r="1.9" fill="#8a6cb6"/><circle cx="1380.7" cy="440.4" r="2.0" fill="#7461aa"/><circle cx="1329.3" cy="422.4" r="3.4" fill="#8a6cb6"/><circle cx="1338.5" cy="361.6" r="3.9" fill="#9670b6"/><circle cx="1332.6" cy="418.8" r="3.7" fill="#9670b6"/><circle cx="1385.6" cy="362.4" r="3.8" fill="#6a56a4"/><circle cx="1369.1" cy="398.4" r="2.5" fill="#6f64b4"/><circle cx="1391.9" cy="409.2" r="3.0" fill="#8a6cb6"/><circle cx="1402.7" cy="376.4" r="2.7" fill="#6f64b4"/><circle cx="1398.8" cy="410.2" r="2.4" fill="#8a6cb6"/><circle cx="1349.2" cy="423.7" r="2.0" fill="#6a56a4"/><circle cx="1346.7" cy="434.3" r="2.3" fill="#6a56a4"/><circle cx="1400.9" cy="360.3" r="3.3" fill="#6f64b4"/><circle cx="1334.4" cy="388.3" r="4.1" fill="#875aa8"/><circle cx="1399.0" cy="384.7" r="3.7" fill="#7461aa"/><circle cx="1328.3" cy="402.8" r="1.9" fill="#8a6cb6"/><circle cx="1372.1" cy="409.7" r="3.5" fill="#9670b6"/><circle cx="1353.5" cy="395.2" r="2.9" fill="#6a56a4"/><circle cx="1365.1" cy="369.2" r="2.8" fill="#9670b6"/><circle cx="1344.2" cy="399.9" r="3.7" fill="#6a56a4"/><circle cx="1387.7" cy="412.0" r="2.8" fill="#8a6cb6"/><circle cx="1375.5" cy="429.1" r="3.7" fill="#9670b6"/><circle cx="1414.8" cy="388.2" r="3.9" fill="#9670b6"/><circle cx="1396.6" cy="383.9" r="4.1" fill="#7461aa"/><circle cx="1329.6" cy="389.5" r="2.7" fill="#9670b6"/><circle cx="1358.4" cy="428.7" r="3.9" fill="#9670b6"/><circle cx="1365.1" cy="347.3" r="3.0" fill="#8a6cb6"/><circle cx="1390.6" cy="422.3" r="3.1" fill="#6a56a4"/><circle cx="1368.0" cy="394.8" r="4.2" fill="#7461aa"/><circle cx="1335.8" cy="434.3" r="2.7" fill="#875aa8"/><circle cx="1386.9" cy="400.2" r="1.8" fill="#7461aa"/><circle cx="1403.6" cy="369.7" r="3.2" fill="#8a6cb6"/><circle cx="1341.6" cy="403.4" r="3.4" fill="#7461aa"/><circle cx="1343.7" cy="408.0" r="1.9" fill="#7461aa"/><circle cx="1414.4" cy="407.1" r="2.2" fill="#875aa8"/><circle cx="1366.2" cy="413.9" r="3.6" fill="#7461aa"/><circle cx="1320.4" cy="393.0" r="3.1" fill="#9670b6"/><circle cx="1376.5" cy="396.6" r="3.0" fill="#8a6cb6"/><circle cx="1403.9" cy="366.8" r="2.9" fill="#6f64b4"/><circle cx="1367.2" cy="349.1" r="4.1" fill="#875aa8"/><circle cx="1335.0" cy="413.9" r="2.2" fill="#6a56a4"/><circle cx="1382.6" cy="403.8" r="3.8" fill="#8a6cb6"/><circle cx="1341.0" cy="411.7" r="2.9" fill="#9670b6"/><circle cx="1319.1" cy="409.9" r="2.2" fill="#9670b6"/><circle cx="1372.1" cy="403.0" r="3.0" fill="#6a56a4"/><circle cx="1388.5" cy="352.9" r="3.3" fill="#8a6cb6"/><circle cx="1350.2" cy="430.8" r="2.1" fill="#6a56a4"/><circle cx="1358.1" cy="436.9" r="4.0" fill="#8a6cb6"/><circle cx="1353.3" cy="401.0" r="1.9" fill="#7461aa"/><circle cx="1404.7" cy="365.6" r="3.3" fill="#6a56a4"/><circle cx="1354.8" cy="422.7" r="3.4" fill="#7461aa"/><circle cx="1355.4" cy="419.3" r="4.1" fill="#9670b6"/><circle cx="1353.0" cy="424.1" r="2.5" fill="#6a56a4"/><circle cx="1338.0" cy="411.5" r="4.0" fill="#7461aa"/><circle cx="1368.7" cy="417.7" r="2.0" fill="#875aa8"/><circle cx="1395.7" cy="421.8" r="2.1" fill="#8a6cb6"/><circle cx="1412.0" cy="377.9" r="3.5" fill="#7461aa"/><circle cx="1362.1" cy="430.0" r="2.4" fill="#875aa8"/><circle cx="1346.4" cy="387.9" r="3.0" fill="#6a56a4"/><circle cx="1395.2" cy="432.9" r="2.2" fill="#7461aa"/><circle cx="1347.5" cy="359.7" r="2.1" fill="#8a6cb6"/><circle cx="1382.7" cy="431.3" r="2.5" fill="#6f64b4"/><circle cx="1386.3" cy="353.9" r="0.48" fill="#a9b4e2"/><circle cx="1375.6" cy="438.1" r="0.71" fill="#d5ddf3"/><circle cx="1362.5" cy="413.1" r="0.54" fill="#b3bde6"/><circle cx="1401.5" cy="380.9" r="1.91" fill="#b3bde6"/><circle cx="1414.9" cy="394.5" r="0.60" fill="#e6ebf9"/><circle cx="1402.1" cy="423.1" r="0.73" fill="#a9b4e2"/><circle cx="1365.4" cy="351.7" r="0.79" fill="#a9b4e2"/><circle cx="1359.4" cy="413.5" r="0.72" fill="#a9b4e2"/><circle cx="1353.8" cy="436.6" r="0.90" fill="#c3cdec"/><circle cx="1347.4" cy="436.9" r="0.53" fill="#d5ddf3"/><circle cx="1327.0" cy="420.5" r="1.42" fill="#d5ddf3"/><circle cx="1379.3" cy="348.1" r="0.86" fill="#b3bde6"/><circle cx="1396.3" cy="415.5" r="1.61" fill="#a9b4e2"/><circle cx="1372.5" cy="428.3" r="0.79" fill="#a9b4e2"/><circle cx="1341.7" cy="425.3" r="1.04" fill="#b3bde6"/><circle cx="1354.7" cy="443.1" r="0.61" fill="#a9b4e2"/><circle cx="1374.8" cy="444.1" r="0.89" fill="#e6ebf9"/><circle cx="1398.5" cy="388.6" r="0.74" fill="#c3cdec"/><circle cx="1401.8" cy="392.5" r="0.71" fill="#d5ddf3"/><circle cx="1334.0" cy="413.7" r="0.82" fill="#c3cdec"/><circle cx="1384.6" cy="371.2" r="1.04" fill="#c3cdec"/><circle cx="1398.6" cy="407.4" r="0.52" fill="#e6ebf9"/><circle cx="1358.7" cy="366.6" r="0.63" fill="#e6ebf9"/><circle cx="1322.1" cy="413.1" r="0.86" fill="#e6ebf9"/><circle cx="1380.0" cy="413.9" r="0.67" fill="#c3cdec"/><circle cx="1382.9" cy="380.5" r="0.71" fill="#d5ddf3"/><circle cx="1319.8" cy="384.0" r="0.77" fill="#c3cdec"/><circle cx="1327.8" cy="410.2" r="0.52" fill="#e6ebf9"/><circle cx="1368.8" cy="413.7" r="0.63" fill="#d5ddf3"/><circle cx="1383.0" cy="361.2" r="1.40" fill="#b3bde6"/><circle cx="1340.2" cy="418.8" r="1.04" fill="#c3cdec"/><circle cx="1338.8" cy="418.3" r="0.71" fill="#b3bde6"/><circle cx="1351.7" cy="401.5" r="1.04" fill="#d5ddf3"/><circle cx="1408.5" cy="413.7" r="0.90" fill="#d5ddf3"/><circle cx="1344.6" cy="437.7" r="0.83" fill="#b3bde6"/><circle cx="1337.2" cy="358.9" r="0.59" fill="#e6ebf9"/><circle cx="1376.8" cy="392.6" r="0.76" fill="#a9b4e2"/><circle cx="1328.8" cy="389.9" r="0.50" fill="#e6ebf9"/><circle cx="1387.2" cy="353.1" r="0.69" fill="#e6ebf9"/><circle cx="1346.9" cy="364.9" r="0.57" fill="#a9b4e2"/><circle cx="1390.1" cy="422.3" r="0.82" fill="#a9b4e2"/><circle cx="1392.5" cy="362.3" r="1.47" fill="#e6ebf9"/><circle cx="1390.5" cy="364.9" r="0.75" fill="#c3cdec"/><circle cx="1387.1" cy="352.5" r="0.52" fill="#e6ebf9"/><circle cx="1381.1" cy="372.2" r="0.90" fill="#c3cdec"/><circle cx="1331.8" cy="425.9" r="0.95" fill="#e6ebf9"/><circle cx="1350.2" cy="412.9" r="0.62" fill="#d5ddf3"/><circle cx="1356.0" cy="368.4" r="0.52" fill="#e6ebf9"/><circle cx="1375.4" cy="413.5" r="0.74" fill="#b3bde6"/><circle cx="1349.9" cy="382.3" r="0.90" fill="#a9b4e2"/><circle cx="1347.4" cy="405.0" r="0.63" fill="#d5ddf3"/><circle cx="1376.4" cy="350.8" r="0.74" fill="#b3bde6"/><circle cx="1334.1" cy="391.5" r="0.75" fill="#a9b4e2"/><circle cx="1394.9" cy="393.0" r="1.05" fill="#c3cdec"/><circle cx="1390.0" cy="416.7" r="1.87" fill="#b3bde6"/><circle cx="1394.0" cy="418.0" r="0.96" fill="#a9b4e2"/><circle cx="1393.4" cy="434.3" r="1.57" fill="#b3bde6"/><circle cx="1375.9" cy="375.5" r="0.51" fill="#a9b4e2"/><circle cx="1334.3" cy="374.7" r="0.86" fill="#b3bde6"/><circle cx="1411.0" cy="392.2" r="0.90" fill="#d5ddf3"/><circle cx="1333.2" cy="412.7" r="0.91" fill="#b3bde6"/><circle cx="1343.3" cy="385.4" r="0.87" fill="#e6ebf9"/><circle cx="1359.4" cy="368.1" r="0.55" fill="#e6ebf9"/><circle cx="1380.4" cy="423.0" r="0.57" fill="#a9b4e2"/><circle cx="1337.9" cy="427.0" r="0.81" fill="#c3cdec"/><circle cx="1345.7" cy="394.9" r="0.51" fill="#e6ebf9"/><circle cx="1390.0" cy="369.4" r="1.59" fill="#b3bde6"/><circle cx="1356.3" cy="373.7" r="0.61" fill="#d5ddf3"/><circle cx="1333.6" cy="400.3" r="0.61" fill="#c3cdec"/><circle cx="1361.9" cy="439.0" r="1.02" fill="#c3cdec"/><circle cx="1409.7" cy="391.5" r="0.89" fill="#d5ddf3"/><circle cx="1378.2" cy="382.1" r="0.50" fill="#b3bde6"/><circle cx="1393.8" cy="391.0" r="1.81" fill="#e6ebf9"/><circle cx="1361.6" cy="430.5" r="0.67" fill="#e6ebf9"/><circle cx="1324.9" cy="394.4" r="0.71" fill="#b3bde6"/><circle cx="1358.6" cy="420.3" r="0.99" fill="#d5ddf3"/><circle cx="1385.0" cy="430.2" r="0.58" fill="#a9b4e2"/><circle cx="1362.9" cy="373.2" r="0.87" fill="#b3bde6"/><circle cx="1401.5" cy="405.5" r="0.90" fill="#c3cdec"/><circle cx="1382.9" cy="411.1" r="1.92" fill="#e6ebf9"/><circle cx="1364.5" cy="376.4" r="0.78" fill="#a9b4e2"/><circle cx="1362.9" cy="370.5" r="1.40" fill="#c3cdec"/><circle cx="1400.0" cy="418.8" r="0.83" fill="#e6ebf9"/><circle cx="1327.8" cy="382.4" r="0.72" fill="#d5ddf3"/><circle cx="1402.9" cy="412.9" r="1.60" fill="#b3bde6"/><circle cx="1337.7" cy="392.3" r="1.03" fill="#c3cdec"/><circle cx="1331.9" cy="424.1" r="0.72" fill="#b3bde6"/><circle cx="1343.0" cy="371.9" r="1.49" fill="#c3cdec"/><circle cx="1369.9" cy="427.2" r="0.51" fill="#a9b4e2"/><circle cx="1396.3" cy="422.2" r="1.50" fill="#e6ebf9"/><circle cx="1394.3" cy="400.3" r="0.57" fill="#b3bde6"/><circle cx="1334.6" cy="357.6" r="0.68" fill="#c3cdec"/><circle cx="1333.9" cy="391.1" r="0.64" fill="#e6ebf9"/><circle cx="1350.3" cy="395.5" r="1.01" fill="#a9b4e2"/><circle cx="1387.2" cy="424.1" r="0.64" fill="#c3cdec"/><circle cx="1332.9" cy="432.4" r="0.52" fill="#e6ebf9"/><circle cx="1379.7" cy="355.2" r="1.81" fill="#d5ddf3"/><circle cx="1362.6" cy="396.1" r="0.88" fill="#d5ddf3"/><circle cx="1404.7" cy="407.6" r="0.63" fill="#b3bde6"/><circle cx="1373.8" cy="351.9" r="0.64" fill="#e6ebf9"/><circle cx="1376.0" cy="393.2" r="1.03" fill="#d5ddf3"/><circle cx="1382.7" cy="421.5" r="0.90" fill="#c3cdec"/><circle cx="1356.2" cy="385.1" r="0.85" fill="#a9b4e2"/><circle cx="1378.8" cy="396.0" r="0.86" fill="#e6ebf9"/><circle cx="1351.6" cy="370.8" r="0.92" fill="#b3bde6"/><circle cx="1359.1" cy="390.5" r="0.63" fill="#b3bde6"/><circle cx="1375.7" cy="353.8" r="1.47" fill="#b3bde6"/><circle cx="1364.0" cy="347.1" r="0.74" fill="#b3bde6"/><circle cx="1333.3" cy="371.8" r="1.05" fill="#e6ebf9"/><circle cx="1367.0" cy="416.6" r="0.51" fill="#a9b4e2"/><circle cx="1334.8" cy="405.1" r="0.70" fill="#e6ebf9"/><circle cx="1356.9" cy="399.7" r="0.89" fill="#b3bde6"/><circle cx="1391.4" cy="377.9" r="1.67" fill="#c3cdec"/><circle cx="1366.8" cy="386.8" r="0.70" fill="#a9b4e2"/><circle cx="1369.4" cy="361.4" r="0.68" fill="#e6ebf9"/><circle cx="1340.0" cy="373.3" r="0.48" fill="#c3cdec"/><circle cx="1384.7" cy="384.4" r="0.98" fill="#d5ddf3"/><circle cx="1384.1" cy="393.1" r="0.92" fill="#d5ddf3"/><circle cx="1384.1" cy="409.5" r="1.00" fill="#c3cdec"/><circle cx="1393.1" cy="377.4" r="0.54" fill="#e6ebf9"/><circle cx="1326.7" cy="396.0" r="1.66" fill="#a9b4e2"/><circle cx="1413.8" cy="401.0" r="0.64" fill="#d5ddf3"/><circle cx="1363.0" cy="409.7" r="0.98" fill="#c3cdec"/><circle cx="1385.7" cy="374.9" r="1.79" fill="#a9b4e2"/><circle cx="1358.4" cy="417.2" r="0.78" fill="#e6ebf9"/><circle cx="1405.6" cy="395.9" r="0.94" fill="#c3cdec"/><circle cx="1366.8" cy="350.7" r="0.49" fill="#c3cdec"/><circle cx="1358.5" cy="423.6" r="0.58" fill="#a9b4e2"/><circle cx="1372.4" cy="362.8" r="0.60" fill="#e6ebf9"/><circle cx="1363.3" cy="421.9" r="1.02" fill="#c3cdec"/><circle cx="1350.8" cy="432.9" r="0.51" fill="#e6ebf9"/><circle cx="1356.4" cy="352.4" r="0.92" fill="#d5ddf3"/><circle cx="1352.4" cy="384.6" r="0.55" fill="#a9b4e2"/><circle cx="1379.6" cy="420.3" r="0.52" fill="#a9b4e2"/><circle cx="1408.4" cy="414.9" r="1.68" fill="#e6ebf9"/><circle cx="1371.8" cy="363.3" r="0.91" fill="#d5ddf3"/><circle cx="1372.1" cy="366.0" r="0.96" fill="#a9b4e2"/><circle cx="1376.7" cy="427.3" r="0.73" fill="#d5ddf3"/><circle cx="1391.9" cy="384.0" r="0.79" fill="#d5ddf3"/><circle cx="1324.7" cy="402.7" r="0.56" fill="#d5ddf3"/><circle cx="1354.8" cy="378.1" r="0.89" fill="#b3bde6"/><circle cx="1398.0" cy="412.7" r="0.95" fill="#d5ddf3"/><circle cx="1377.2" cy="394.0" r="1.58" fill="#a9b4e2"/><circle cx="1325.2" cy="408.3" r="0.93" fill="#e6ebf9"/><circle cx="1391.9" cy="369.6" r="0.50" fill="#d5ddf3"/><circle cx="1354.7" cy="376.3" r="0.51" fill="#b3bde6"/><circle cx="1388.3" cy="399.6" r="1.78" fill="#a9b4e2"/><circle cx="1398.2" cy="368.5" r="0.65" fill="#a9b4e2"/><circle cx="1356.6" cy="422.0" r="1.02" fill="#a9b4e2"/><circle cx="1362.2" cy="390.7" r="0.90" fill="#b3bde6"/><circle cx="1332.2" cy="407.6" r="0.85" fill="#b3bde6"/><circle cx="1382.6" cy="375.2" r="0.59" fill="#b3bde6"/><circle cx="1337.3" cy="407.2" r="0.76" fill="#b3bde6"/><circle cx="1358.4" cy="423.6" r="0.90" fill="#b3bde6"/><circle cx="1408.6" cy="416.8" r="0.89" fill="#e6ebf9"/><circle cx="1400.4" cy="387.9" r="0.94" fill="#b3bde6"/><circle cx="1408.3" cy="397.5" r="1.61" fill="#e6ebf9"/><circle cx="1321.7" cy="387.1" r="0.60" fill="#a9b4e2"/><circle cx="1331.6" cy="390.5" r="0.95" fill="#b3bde6"/><circle cx="1401.0" cy="416.9" r="0.94" fill="#e6ebf9"/><circle cx="1360.6" cy="373.9" r="0.61" fill="#a9b4e2"/><circle cx="1387.0" cy="381.5" r="1.04" fill="#c3cdec"/><circle cx="1330.2" cy="405.9" r="0.62" fill="#a9b4e2"/><circle cx="1365.0" cy="393.8" r="0.71" fill="#d5ddf3"/><circle cx="1399.6" cy="374.8" r="1.82" fill="#e6ebf9"/><circle cx="1335.9" cy="377.8" r="0.97" fill="#b3bde6"/><circle cx="1367.2" cy="417.7" r="0.47" fill="#d5ddf3"/><circle cx="1363.5" cy="398.9" r="0.47" fill="#d5ddf3"/><circle cx="1380.2" cy="421.8" r="0.94" fill="#a9b4e2"/><circle cx="1357.7" cy="386.3" r="0.90" fill="#b3bde6"/><circle cx="1382.5" cy="416.1" r="0.60" fill="#b3bde6"/><circle cx="1349.1" cy="386.4" r="0.71" fill="#d5ddf3"/><circle cx="1335.3" cy="402.6" r="0.46" fill="#a9b4e2"/><circle cx="1407.4" cy="418.5" r="0.70" fill="#d5ddf3"/><circle cx="1384.6" cy="435.6" r="0.51" fill="#e6ebf9"/><circle cx="1353.9" cy="365.6" r="0.60" fill="#e6ebf9"/><circle cx="1390.5" cy="402.2" r="0.67" fill="#b3bde6"/><circle cx="1396.8" cy="366.2" r="1.01" fill="#b3bde6"/><circle cx="1389.3" cy="390.8" r="1.02" fill="#b3bde6"/><circle cx="1361.2" cy="414.7" r="0.67" fill="#c3cdec"/><circle cx="1345.4" cy="367.8" r="0.57" fill="#e6ebf9"/><circle cx="1408.7" cy="390.0" r="0.77" fill="#e6ebf9"/><circle cx="1380.9" cy="382.1" r="0.95" fill="#e6ebf9"/><circle cx="1367.8" cy="364.6" r="0.57" fill="#c3cdec"/><circle cx="1394.0" cy="366.6" r="0.67" fill="#b3bde6"/><circle cx="1350.5" cy="440.0" r="0.85" fill="#a9b4e2"/><circle cx="1368.8" cy="376.3" r="1.56" fill="#b3bde6"/><circle cx="1398.3" cy="367.0" r="1.52" fill="#e6ebf9"/><circle cx="1352.8" cy="376.8" r="0.88" fill="#b3bde6"/><circle cx="1383.4" cy="377.1" r="0.60" fill="#d5ddf3"/><circle cx="1382.3" cy="393.7" r="0.79" fill="#a9b4e2"/><circle cx="1327.0" cy="419.2" r="1.02" fill="#a9b4e2"/><circle cx="1342.1" cy="381.6" r="0.82" fill="#a9b4e2"/><circle cx="1397.8" cy="430.4" r="0.55" fill="#e6ebf9"/><circle cx="1364.2" cy="419.7" r="0.86" fill="#e6ebf9"/><circle cx="1404.7" cy="417.9" r="0.46" fill="#e6ebf9"/><circle cx="1391.4" cy="368.7" r="1.61" fill="#e6ebf9"/><circle cx="1348.3" cy="436.6" r="0.66" fill="#e6ebf9"/><circle cx="1386.7" cy="368.9" r="0.57" fill="#e6ebf9"/><circle cx="1368.1" cy="378.8" r="0.78" fill="#a9b4e2"/><circle cx="1340.6" cy="389.0" r="0.83" fill="#b3bde6"/><circle cx="1373.1" cy="387.3" r="0.50" fill="#c3cdec"/><circle cx="1373.7" cy="417.7" r="0.93" fill="#c3cdec"/><circle cx="1351.7" cy="392.5" r="0.69" fill="#d5ddf3"/><circle cx="1401.9" cy="368.8" r="0.57" fill="#e6ebf9"/><circle cx="1369.0" cy="379.5" r="1.40" fill="#b3bde6"/><circle cx="1344.8" cy="355.1" r="0.56" fill="#b3bde6"/><circle cx="1396.9" cy="410.7" r="1.75" fill="#c3cdec"/><circle cx="1349.8" cy="375.0" r="0.98" fill="#c3cdec"/><circle cx="1333.6" cy="364.4" r="0.66" fill="#c3cdec"/><circle cx="1386.9" cy="428.4" r="0.72" fill="#c3cdec"/><circle cx="1398.9" cy="363.7" r="0.95" fill="#b3bde6"/><circle cx="1353.9" cy="360.5" r="1.61" fill="#d5ddf3"/><circle cx="1333.5" cy="408.8" r="0.59" fill="#a9b4e2"/><circle cx="1338.8" cy="368.1" r="0.55" fill="#a9b4e2"/><circle cx="1364.0" cy="412.9" r="0.93" fill="#e6ebf9"/><circle cx="1396.2" cy="400.6" r="0.95" fill="#c3cdec"/><circle cx="1406.4" cy="420.7" r="0.47" fill="#c3cdec"/><circle cx="1348.7" cy="430.0" r="0.99" fill="#e6ebf9"/><circle cx="1354.1" cy="439.1" r="0.52" fill="#a9b4e2"/><circle cx="1359.5" cy="392.4" r="1.57" fill="#c3cdec"/><circle cx="1365.4" cy="403.7" r="0.62" fill="#e6ebf9"/><circle cx="1334.9" cy="361.9" r="0.94" fill="#e6ebf9"/><circle cx="1393.5" cy="404.5" r="0.96" fill="#d5ddf3"/><circle cx="1349.8" cy="429.5" r="0.78" fill="#c3cdec"/><circle cx="1355.0" cy="404.6" r="0.80" fill="#a9b4e2"/><circle cx="1396.0" cy="388.8" r="1.03" fill="#a9b4e2"/><circle cx="1339.3" cy="387.4" r="0.60" fill="#a9b4e2"/><circle cx="1328.0" cy="425.5" r="0.83" fill="#c3cdec"/><circle cx="1389.3" cy="429.1" r="0.85" fill="#c3cdec"/><circle cx="1388.8" cy="438.7" r="0.67" fill="#a9b4e2"/><circle cx="1380.8" cy="355.5" r="0.76" fill="#e6ebf9"/><circle cx="1322.9" cy="386.3" r="0.63" fill="#a9b4e2"/><circle cx="1345.3" cy="376.9" r="0.51" fill="#e6ebf9"/><circle cx="1346.5" cy="379.4" r="0.73" fill="#c3cdec"/><circle cx="1330.1" cy="406.2" r="0.82" fill="#d5ddf3"/><circle cx="1329.7" cy="374.4" r="0.58" fill="#d5ddf3"/><circle cx="1362.9" cy="357.8" r="0.62" fill="#d5ddf3"/><circle cx="1396.3" cy="431.0" r="1.78" fill="#e6ebf9"/><circle cx="1327.5" cy="390.7" r="0.68" fill="#d5ddf3"/><circle cx="1367.8" cy="398.3" r="1.03" fill="#d5ddf3"/><circle cx="1367.5" cy="440.7" r="0.86" fill="#d5ddf3"/><circle cx="1352.9" cy="369.2" r="0.84" fill="#b3bde6"/><circle cx="1346.5" cy="376.0" r="0.83" fill="#a9b4e2"/><circle cx="1360.7" cy="423.4" r="0.45" fill="#d5ddf3"/><circle cx="1400.9" cy="362.6" r="0.45" fill="#b3bde6"/><circle cx="1354.5" cy="389.1" r="1.73" fill="#d5ddf3"/><circle cx="1350.5" cy="440.5" r="0.99" fill="#e6ebf9"/><circle cx="1366.4" cy="428.1" r="1.65" fill="#d5ddf3"/><circle cx="1366.0" cy="402.3" r="0.86" fill="#a9b4e2"/><circle cx="1388.5" cy="402.3" r="1.40" fill="#c3cdec"/><circle cx="1332.6" cy="426.2" r="0.95" fill="#b3bde6"/><circle cx="1346.0" cy="416.0" r="0.51" fill="#e6ebf9"/><circle cx="1404.9" cy="418.5" r="1.56" fill="#c3cdec"/><circle cx="1339.1" cy="400.7" r="0.73" fill="#d5ddf3"/><circle cx="1348.6" cy="408.5" r="0.94" fill="#a9b4e2"/><circle cx="1367.5" cy="423.3" r="0.84" fill="#a9b4e2"/><circle cx="1324.9" cy="388.9" r="0.97" fill="#b3bde6"/><circle cx="1377.2" cy="354.0" r="0.50" fill="#e6ebf9"/><circle cx="1361.1" cy="371.4" r="0.62" fill="#b3bde6"/><circle cx="1320.8" cy="408.9" r="0.65" fill="#a9b4e2"/><circle cx="1319.8" cy="413.4" r="0.96" fill="#c3cdec"/><circle cx="1357.8" cy="371.6" r="1.01" fill="#e6ebf9"/><circle cx="1358.4" cy="416.2" r="1.00" fill="#d5ddf3"/><circle cx="1349.2" cy="398.0" r="0.75" fill="#c3cdec"/><circle cx="1377.5" cy="399.3" r="1.72" fill="#c3cdec"/><circle cx="1350.2" cy="439.7" r="0.56" fill="#c3cdec"/><circle cx="1393.7" cy="394.1" r="1.04" fill="#a9b4e2"/><circle cx="1371.7" cy="422.5" r="0.64" fill="#d5ddf3"/><circle cx="1371.9" cy="372.4" r="1.04" fill="#a9b4e2"/><circle cx="1382.2" cy="395.2" r="1.43" fill="#e6ebf9"/><circle cx="1364.3" cy="423.5" r="0.58" fill="#d5ddf3"/><circle cx="1379.7" cy="385.5" r="0.71" fill="#c3cdec"/><circle cx="1362.4" cy="376.0" r="0.75" fill="#b3bde6"/><circle cx="1336.3" cy="366.5" r="0.48" fill="#e6ebf9"/><circle cx="1383.9" cy="363.3" r="0.62" fill="#c3cdec"/><circle cx="1390.2" cy="379.0" r="1.48" fill="#c3cdec"/><circle cx="1375.1" cy="358.0" r="1.39" fill="#e6ebf9"/><circle cx="1413.0" cy="383.3" r="1.81" fill="#b3bde6"/><circle cx="1370.3" cy="356.2" r="1.66" fill="#a9b4e2"/><circle cx="1368.3" cy="438.3" r="0.81" fill="#e6ebf9"/><circle cx="1342.0" cy="364.0" r="0.91" fill="#e6ebf9"/><circle cx="1337.7" cy="402.2" r="1.03" fill="#b3bde6"/><circle cx="1377.0" cy="373.3" r="0.77" fill="#a9b4e2"/><circle cx="1396.6" cy="417.2" r="0.60" fill="#a9b4e2"/><circle cx="1393.2" cy="414.1" r="0.63" fill="#a9b4e2"/><circle cx="1363.8" cy="406.7" r="0.71" fill="#b3bde6"/><circle cx="1379.6" cy="415.5" r="0.57" fill="#d5ddf3"/><circle cx="1400.2" cy="400.3" r="0.71" fill="#e6ebf9"/><circle cx="1356.2" cy="366.7" r="0.67" fill="#a9b4e2"/><circle cx="1399.5" cy="407.0" r="1.65" fill="#c3cdec"/><circle cx="1381.9" cy="418.1" r="0.49" fill="#a9b4e2"/><circle cx="1334.9" cy="391.4" r="0.66" fill="#c3cdec"/><circle cx="1372.6" cy="395.8" r="0.72" fill="#b3bde6"/><circle cx="1381.6" cy="367.0" r="0.52" fill="#d5ddf3"/><circle cx="1356.6" cy="409.1" r="0.98" fill="#a9b4e2"/><circle cx="1402.4" cy="390.4" r="0.86" fill="#e6ebf9"/><circle cx="1358.4" cy="416.8" r="0.78" fill="#b3bde6"/><circle cx="1337.2" cy="362.4" r="0.66" fill="#c3cdec"/><circle cx="1344.9" cy="416.7" r="0.62" fill="#b3bde6"/><circle cx="1362.5" cy="363.7" r="0.67" fill="#e6ebf9"/><circle cx="1403.7" cy="422.2" r="0.71" fill="#a9b4e2"/><circle cx="1336.7" cy="390.8" r="1.00" fill="#b3bde6"/><circle cx="1391.5" cy="435.2" r="1.38" fill="#b3bde6"/><circle cx="1340.6" cy="421.2" r="0.80" fill="#b3bde6"/><circle cx="1411.1" cy="396.7" r="1.87" fill="#a9b4e2"/><circle cx="1346.6" cy="376.2" r="0.90" fill="#a9b4e2"/><circle cx="1376.1" cy="366.0" r="0.67" fill="#e6ebf9"/><circle cx="1388.4" cy="387.0" r="0.56" fill="#c3cdec"/><circle cx="1395.8" cy="427.2" r="1.01" fill="#e6ebf9"/><circle cx="1353.0" cy="437.5" r="0.76" fill="#d5ddf3"/><circle cx="1339.2" cy="410.1" r="0.73" fill="#e6ebf9"/><circle cx="1387.1" cy="409.1" r="1.05" fill="#d5ddf3"/><circle cx="1365.9" cy="377.4" r="0.68" fill="#d5ddf3"/><circle cx="1383.6" cy="357.7" r="0.91" fill="#e6ebf9"/><circle cx="1347.0" cy="428.8" r="0.52" fill="#a9b4e2"/><circle cx="1335.9" cy="432.8" r="0.86" fill="#a9b4e2"/><circle cx="1354.4" cy="350.8" r="0.98" fill="#a9b4e2"/><circle cx="1408.2" cy="417.7" r="0.83" fill="#d5ddf3"/><circle cx="1355.6" cy="421.6" r="0.97" fill="#a9b4e2"/><circle cx="1365.2" cy="368.3" r="0.62" fill="#a9b4e2"/><circle cx="1347.1" cy="400.8" r="0.66" fill="#b3bde6"/><circle cx="1372.4" cy="382.6" r="0.79" fill="#c3cdec"/><circle cx="1350.7" cy="439.1" r="1.01" fill="#d5ddf3"/><circle cx="1406.7" cy="381.2" r="0.77" fill="#a9b4e2"/><circle cx="1329.6" cy="393.7" r="0.52" fill="#c3cdec"/><circle cx="1333.3" cy="383.6" r="0.70" fill="#b3bde6"/><circle cx="1369.2" cy="437.7" r="1.01" fill="#e6ebf9"/><circle cx="1409.0" cy="417.5" r="1.59" fill="#c3cdec"/><circle cx="1349.2" cy="410.1" r="0.45" fill="#d5ddf3"/><circle cx="1371.3" cy="367.1" r="0.52" fill="#e6ebf9"/><circle cx="1379.8" cy="430.7" r="0.78" fill="#e6ebf9"/><circle cx="1341.6" cy="355.1" r="0.81" fill="#e6ebf9"/><circle cx="1407.0" cy="383.0" r="0.78" fill="#a9b4e2"/><circle cx="1371.7" cy="391.8" r="0.71" fill="#d5ddf3"/><circle cx="1405.8" cy="424.0" r="0.67" fill="#a9b4e2"/><circle cx="1362.7" cy="418.1" r="0.98" fill="#a9b4e2"/><circle cx="1323.4" cy="400.3" r="1.03" fill="#a9b4e2"/><circle cx="1355.1" cy="439.2" r="1.02" fill="#d5ddf3"/><circle cx="1383.8" cy="379.2" r="1.02" fill="#e6ebf9"/><circle cx="1359.9" cy="377.2" r="0.76" fill="#c3cdec"/><circle cx="1386.6" cy="380.8" r="0.75" fill="#d5ddf3"/><circle cx="1385.5" cy="362.3" r="0.68" fill="#c3cdec"/><circle cx="1354.0" cy="352.1" r="1.84" fill="#c3cdec"/><circle cx="1352.4" cy="351.5" r="0.94" fill="#a9b4e2"/><circle cx="1350.3" cy="391.0" r="0.62" fill="#b3bde6"/><circle cx="1377.2" cy="442.8" r="1.88" fill="#e6ebf9"/><circle cx="1360.6" cy="438.2" r="1.86" fill="#c3cdec"/><circle cx="1331.0" cy="387.2" r="0.49" fill="#d5ddf3"/><circle cx="1398.1" cy="401.8" r="0.61" fill="#b3bde6"/><circle cx="1342.9" cy="356.4" r="0.85" fill="#b3bde6"/><circle cx="1383.2" cy="352.9" r="0.67" fill="#e6ebf9"/><circle cx="1397.6" cy="406.1" r="1.02" fill="#b3bde6"/><circle cx="1373.0" cy="393.4" r="0.94" fill="#d5ddf3"/><circle cx="1385.7" cy="379.5" r="0.86" fill="#c3cdec"/><circle cx="1403.7" cy="391.5" r="1.72" fill="#c3cdec"/><circle cx="1391.3" cy="388.5" r="0.55" fill="#a9b4e2"/><circle cx="1353.0" cy="440.2" r="0.78" fill="#d5ddf3"/><circle cx="1344.2" cy="399.4" r="0.72" fill="#e6ebf9"/><circle cx="1357.7" cy="423.2" r="0.75" fill="#b3bde6"/><circle cx="1383.4" cy="411.4" r="0.89" fill="#c3cdec"/><circle cx="1400.0" cy="386.7" r="1.61" fill="#c3cdec"/><circle cx="1406.9" cy="393.7" r="1.00" fill="#b3bde6"/><circle cx="1389.3" cy="407.3" r="1.03" fill="#d5ddf3"/><circle cx="1387.3" cy="393.6" r="0.88" fill="#a9b4e2"/><circle cx="1346.1" cy="422.1" r="0.78" fill="#b3bde6"/><circle cx="1359.1" cy="402.2" r="1.76" fill="#d5ddf3"/><circle cx="1330.1" cy="422.0" r="0.50" fill="#c3cdec"/><circle cx="1383.3" cy="414.6" r="1.72" fill="#e6ebf9"/><circle cx="1370.7" cy="444.5" r="0.51" fill="#d5ddf3"/><circle cx="1358.0" cy="438.0" r="0.90" fill="#a9b4e2"/><circle cx="1354.3" cy="432.0" r="0.48" fill="#e6ebf9"/><circle cx="1320.4" cy="406.5" r="0.64" fill="#a9b4e2"/><circle cx="1377.1" cy="424.7" r="0.71" fill="#a9b4e2"/><circle cx="1333.4" cy="388.6" r="0.87" fill="#c3cdec"/><circle cx="1371.9" cy="442.3" r="0.73" fill="#d5ddf3"/><circle cx="1347.6" cy="384.7" r="0.69" fill="#b3bde6"/><circle cx="1368.6" cy="422.0" r="0.62" fill="#b3bde6"/><circle cx="1329.9" cy="392.3" r="0.99" fill="#a9b4e2"/><circle cx="1348.5" cy="356.9" r="0.88" fill="#c3cdec"/><circle cx="1339.6" cy="427.6" r="0.54" fill="#b3bde6"/><circle cx="1405.9" cy="413.5" r="0.99" fill="#d5ddf3"/><circle cx="1403.3" cy="427.4" r="0.58" fill="#b3bde6"/><circle cx="1374.5" cy="417.0" r="0.47" fill="#a9b4e2"/><circle cx="1367.7" cy="402.5" r="1.58" fill="#b3bde6"/><circle cx="1355.5" cy="413.4" r="0.71" fill="#b3bde6"/><circle cx="1356.5" cy="374.2" r="0.56" fill="#e6ebf9"/><circle cx="1343.0" cy="424.8" r="0.85" fill="#e6ebf9"/><circle cx="1325.9" cy="410.7" r="0.85" fill="#c3cdec"/><circle cx="1398.9" cy="403.7" r="0.97" fill="#e6ebf9"/><circle cx="1352.8" cy="392.0" r="0.81" fill="#a9b4e2"/><circle cx="1411.9" cy="411.3" r="0.55" fill="#b3bde6"/><circle cx="1370.6" cy="421.8" r="0.54" fill="#a9b4e2"/><circle cx="1409.4" cy="386.1" r="0.67" fill="#b3bde6"/><circle cx="1384.5" cy="403.5" r="0.94" fill="#a9b4e2"/><circle cx="1378.1" cy="372.4" r="0.47" fill="#a9b4e2"/><circle cx="1343.2" cy="381.1" r="0.98" fill="#d5ddf3"/><circle cx="1364.7" cy="347.1" r="0.55" fill="#e6ebf9"/><circle cx="1377.5" cy="371.4" r="0.58" fill="#c3cdec"/><circle cx="1393.9" cy="388.7" r="0.84" fill="#b3bde6"/><circle cx="1398.0" cy="366.5" r="1.67" fill="#a9b4e2"/><circle cx="1330.5" cy="365.1" r="0.77" fill="#b3bde6"/><circle cx="1377.7" cy="351.3" r="0.77" fill="#e6ebf9"/><circle cx="1329.2" cy="386.8" r="1.00" fill="#b3bde6"/><circle cx="1355.2" cy="380.4" r="1.54" fill="#c3cdec"/><circle cx="1366.0" cy="430.8" r="0.49" fill="#c3cdec"/><circle cx="1341.2" cy="428.3" r="0.73" fill="#d5ddf3"/><circle cx="1325.4" cy="407.3" r="0.59" fill="#c3cdec"/><circle cx="1361.0" cy="393.6" r="1.56" fill="#e6ebf9"/><circle cx="1381.6" cy="406.5" r="1.01" fill="#e6ebf9"/><circle cx="1358.6" cy="429.9" r="0.53" fill="#d5ddf3"/><circle cx="1381.5" cy="390.9" r="0.85" fill="#d5ddf3"/><circle cx="1323.9" cy="396.6" r="0.92" fill="#d5ddf3"/><circle cx="1317.7" cy="384.6" r="0.63" fill="#a9b4e2"/><circle cx="1409.7" cy="402.2" r="0.87" fill="#b3bde6"/><circle cx="1367.4" cy="391.6" r="0.90" fill="#e6ebf9"/><circle cx="1390.4" cy="373.6" r="1.71" fill="#c3cdec"/><circle cx="1349.0" cy="368.9" r="0.48" fill="#e6ebf9"/><circle cx="1356.7" cy="384.0" r="1.65" fill="#b3bde6"/><circle cx="1361.7" cy="436.0" r="1.04" fill="#a9b4e2"/><circle cx="1348.5" cy="432.5" r="0.72" fill="#a9b4e2"/><circle cx="1381.9" cy="367.4" r="0.69" fill="#a9b4e2"/><circle cx="1400.9" cy="382.7" r="1.65" fill="#b3bde6"/><circle cx="1341.4" cy="375.2" r="0.55" fill="#b3bde6"/><circle cx="1335.8" cy="382.6" r="0.67" fill="#d5ddf3"/><circle cx="1393.9" cy="407.1" r="0.88" fill="#d5ddf3"/><circle cx="1346.5" cy="390.9" r="0.83" fill="#b3bde6"/><circle cx="1326.8" cy="371.8" r="0.96" fill="#c3cdec"/><circle cx="1348.1" cy="363.7" r="0.48" fill="#c3cdec"/><circle cx="1349.4" cy="384.2" r="0.84" fill="#b3bde6"/><circle cx="1321.4" cy="392.8" r="1.02" fill="#d5ddf3"/><circle cx="1383.6" cy="412.1" r="0.90" fill="#c3cdec"/><circle cx="1364.1" cy="430.9" r="0.73" fill="#e6ebf9"/><circle cx="1398.1" cy="388.6" r="0.83" fill="#d5ddf3"/><circle cx="1373.9" cy="411.4" r="1.48" fill="#d5ddf3"/><circle cx="1333.0" cy="386.4" r="0.67" fill="#e6ebf9"/><circle cx="1384.7" cy="404.6" r="0.47" fill="#e6ebf9"/><circle cx="1394.9" cy="363.9" r="0.55" fill="#d5ddf3"/><circle cx="1342.7" cy="424.9" r="0.58" fill="#b3bde6"/><circle cx="1333.5" cy="395.5" r="0.94" fill="#c3cdec"/><circle cx="1336.5" cy="410.5" r="0.52" fill="#b3bde6"/><circle cx="1401.2" cy="363.7" r="1.83" fill="#b3bde6"/><circle cx="1389.7" cy="382.7" r="0.63" fill="#b3bde6"/><circle cx="1362.8" cy="424.3" r="0.72" fill="#d5ddf3"/><circle cx="1390.0" cy="411.8" r="1.65" fill="#b3bde6"/><circle cx="1364.4" cy="363.8" r="0.46" fill="#b3bde6"/><circle cx="1379.4" cy="358.3" r="0.79" fill="#a9b4e2"/><circle cx="1364.1" cy="403.0" r="0.52" fill="#b3bde6"/><circle cx="1411.9" cy="403.6" r="1.84" fill="#c3cdec"/><circle cx="1403.4" cy="402.4" r="1.76" fill="#d5ddf3"/><circle cx="1346.6" cy="430.0" r="0.52" fill="#b3bde6"/><circle cx="1360.7" cy="437.2" r="1.04" fill="#c3cdec"/><circle cx="1359.5" cy="370.4" r="0.72" fill="#e6ebf9"/><circle cx="1346.8" cy="352.0" r="0.57" fill="#a9b4e2"/><circle cx="1405.0" cy="418.8" r="0.96" fill="#e6ebf9"/><circle cx="1348.2" cy="399.9" r="0.98" fill="#a9b4e2"/><circle cx="1340.4" cy="411.5" r="0.72" fill="#b3bde6"/><circle cx="1346.4" cy="381.7" r="0.57" fill="#e6ebf9"/><circle cx="1395.3" cy="396.5" r="0.79" fill="#b3bde6"/><circle cx="1390.1" cy="392.7" r="1.37" fill="#b3bde6"/><circle cx="1316.8" cy="392.0" r="0.66" fill="#b3bde6"/><circle cx="1326.8" cy="412.6" r="0.95" fill="#a9b4e2"/><circle cx="1359.2" cy="435.4" r="1.00" fill="#a9b4e2"/><circle cx="1356.8" cy="436.4" r="1.02" fill="#d5ddf3"/><circle cx="1340.0" cy="415.5" r="1.00" fill="#d5ddf3"/><circle cx="1332.9" cy="404.8" r="0.74" fill="#c3cdec"/><circle cx="1377.0" cy="369.5" r="0.99" fill="#c3cdec"/><circle cx="1365.2" cy="348.1" r="1.50" fill="#a9b4e2"/><circle cx="1365.5" cy="431.5" r="0.61" fill="#d5ddf3"/><circle cx="1368.5" cy="437.6" r="0.69" fill="#c3cdec"/><circle cx="1358.4" cy="388.9" r="0.95" fill="#c3cdec"/><circle cx="1336.4" cy="409.4" r="0.94" fill="#d5ddf3"/><circle cx="1389.4" cy="395.7" r="0.88" fill="#a9b4e2"/><circle cx="1353.7" cy="395.4" r="0.76" fill="#b3bde6"/><circle cx="1323.8" cy="418.0" r="0.97" fill="#d5ddf3"/><circle cx="1397.1" cy="411.3" r="0.84" fill="#b3bde6"/><circle cx="1401.1" cy="429.8" r="1.37" fill="#e6ebf9"/><circle cx="1395.8" cy="415.2" r="0.93" fill="#b3bde6"/><circle cx="1361.6" cy="367.8" r="1.02" fill="#b3bde6"/><circle cx="1397.8" cy="430.5" r="0.62" fill="#e6ebf9"/><circle cx="1352.3" cy="420.7" r="0.75" fill="#c3cdec"/><circle cx="1384.6" cy="389.7" r="1.77" fill="#c3cdec"/><circle cx="1338.7" cy="424.6" r="0.47" fill="#c3cdec"/><circle cx="1413.3" cy="408.4" r="0.88" fill="#d5ddf3"/><circle cx="1331.5" cy="376.5" r="0.67" fill="#e6ebf9"/><circle cx="1321.3" cy="411.1" r="0.84" fill="#b3bde6"/><circle cx="1399.6" cy="392.5" r="1.00" fill="#d5ddf3"/><circle cx="1367.3" cy="376.4" r="0.92" fill="#a9b4e2"/><circle cx="1320.4" cy="393.3" r="0.95" fill="#b3bde6"/><circle cx="1332.7" cy="425.1" r="0.75" fill="#c3cdec"/><circle cx="1385.8" cy="354.9" r="1.38" fill="#d5ddf3"/><circle cx="1324.7" cy="376.3" r="0.95" fill="#e6ebf9"/><circle cx="1326.7" cy="374.3" r="0.96" fill="#e6ebf9"/><circle cx="1334.1" cy="380.9" r="0.64" fill="#e6ebf9"/><circle cx="1348.6" cy="384.9" r="0.77" fill="#e6ebf9"/><circle cx="1379.3" cy="422.2" r="0.80" fill="#c3cdec"/><circle cx="1349.8" cy="423.6" r="0.89" fill="#c3cdec"/><circle cx="1346.6" cy="427.5" r="0.81" fill="#b3bde6"/><circle cx="1316.6" cy="399.5" r="0.86" fill="#e6ebf9"/><circle cx="1379.7" cy="388.9" r="0.62" fill="#d5ddf3"/><circle cx="1380.6" cy="348.3" r="0.48" fill="#e6ebf9"/><circle cx="1366.3" cy="394.7" r="0.50" fill="#b3bde6"/><circle cx="1347.1" cy="421.9" r="0.77" fill="#d5ddf3"/><circle cx="1399.2" cy="359.4" r="0.88" fill="#e6ebf9"/><circle cx="1361.0" cy="413.5" r="0.60" fill="#d5ddf3"/><circle cx="1370.3" cy="392.7" r="0.55" fill="#c3cdec"/><circle cx="1345.6" cy="435.3" r="0.95" fill="#d5ddf3"/><circle cx="1353.2" cy="412.3" r="0.74" fill="#e6ebf9"/><circle cx="1356.0" cy="361.3" r="1.01" fill="#a9b4e2"/><circle cx="1406.8" cy="417.3" r="0.53" fill="#d5ddf3"/><circle cx="1357.4" cy="425.6" r="0.90" fill="#b3bde6"/><circle cx="1360.7" cy="427.2" r="0.74" fill="#b3bde6"/><circle cx="1366.3" cy="440.0" r="0.45" fill="#a9b4e2"/><circle cx="1328.6" cy="379.2" r="0.78" fill="#c3cdec"/><circle cx="1396.8" cy="431.6" r="0.93" fill="#d5ddf3"/><circle cx="1364.0" cy="442.0" r="0.89" fill="#b3bde6"/><circle cx="1336.6" cy="424.5" r="0.69" fill="#e6ebf9"/><circle cx="1335.7" cy="405.0" r="0.51" fill="#e6ebf9"/><circle cx="1383.4" cy="435.3" r="0.84" fill="#c3cdec"/><circle cx="1343.4" cy="390.9" r="0.75" fill="#e6ebf9"/><circle cx="1377.9" cy="367.5" r="0.45" fill="#a9b4e2"/><circle cx="1371.5" cy="435.6" r="1.04" fill="#e6ebf9"/><circle cx="1361.8" cy="423.1" r="1.50" fill="#a9b4e2"/><circle cx="1388.1" cy="383.3" r="0.52" fill="#b3bde6"/><circle cx="1402.7" cy="371.9" r="1.49" fill="#b3bde6"/><circle cx="1359.6" cy="410.7" r="0.95" fill="#e6ebf9"/><circle cx="1390.3" cy="352.6" r="0.93" fill="#e6ebf9"/><circle cx="1351.3" cy="376.2" r="0.90" fill="#b3bde6"/><circle cx="1371.4" cy="425.2" r="0.97" fill="#b3bde6"/><circle cx="1346.3" cy="378.6" r="0.54" fill="#b3bde6"/><circle cx="1384.1" cy="374.1" r="0.66" fill="#c3cdec"/><circle cx="1402.5" cy="381.8" r="0.96" fill="#b3bde6"/><circle cx="1352.5" cy="424.9" r="0.97" fill="#b3bde6"/><circle cx="1401.8" cy="404.2" r="0.63" fill="#d5ddf3"/><circle cx="1340.8" cy="405.4" r="0.67" fill="#c3cdec"/><circle cx="1338.7" cy="358.1" r="1.03" fill="#a9b4e2"/><circle cx="1367.6" cy="371.8" r="0.83" fill="#a9b4e2"/><circle cx="1346.5" cy="376.1" r="0.90" fill="#a9b4e2"/><circle cx="1349.0" cy="425.3" r="0.66" fill="#c3cdec"/><circle cx="1401.5" cy="380.9" r="1.01" fill="#e6ebf9"/><circle cx="1386.6" cy="387.7" r="1.57" fill="#a9b4e2"/><circle cx="1368.6" cy="371.5" r="0.49" fill="#e6ebf9"/><circle cx="1353.1" cy="356.7" r="1.68" fill="#a9b4e2"/><circle cx="1381.8" cy="426.9" r="0.59" fill="#a9b4e2"/><circle cx="1389.0" cy="375.5" r="1.67" fill="#d5ddf3"/><circle cx="1345.0" cy="381.3" r="0.58" fill="#d5ddf3"/><circle cx="1403.7" cy="398.0" r="0.61" fill="#e6ebf9"/><circle cx="1368.7" cy="381.2" r="0.84" fill="#b3bde6"/><circle cx="1371.8" cy="416.2" r="0.78" fill="#e6ebf9"/><circle cx="1371.5" cy="440.9" r="0.54" fill="#e6ebf9"/><circle cx="1384.8" cy="399.0" r="1.56" fill="#a9b4e2"/><circle cx="1347.4" cy="406.9" r="0.96" fill="#b3bde6"/><circle cx="1359.1" cy="376.7" r="0.46" fill="#a9b4e2"/><circle cx="1317.2" cy="399.3" r="0.64" fill="#e6ebf9"/><circle cx="1384.4" cy="369.0" r="0.74" fill="#c3cdec"/><circle cx="1383.4" cy="438.2" r="0.51" fill="#e6ebf9"/><circle cx="1324.2" cy="405.0" r="0.70" fill="#b3bde6"/><circle cx="1403.6" cy="425.1" r="0.55" fill="#d5ddf3"/><circle cx="1326.9" cy="384.2" r="0.54" fill="#c3cdec"/><circle cx="1371.3" cy="397.6" r="0.76" fill="#a9b4e2"/><circle cx="1375.8" cy="395.3" r="0.97" fill="#a9b4e2"/><circle cx="1358.5" cy="375.4" r="1.82" fill="#a9b4e2"/><circle cx="1399.0" cy="373.2" r="0.87" fill="#e6ebf9"/><circle cx="1377.7" cy="360.3" r="0.50" fill="#c3cdec"/><circle cx="1401.3" cy="362.0" r="0.65" fill="#b3bde6"/><circle cx="1402.2" cy="400.2" r="1.41" fill="#e6ebf9"/><circle cx="1387.5" cy="361.7" r="0.97" fill="#b3bde6"/><circle cx="1349.2" cy="390.7" r="1.45" fill="#b3bde6"/><circle cx="1343.8" cy="435.9" r="0.64" fill="#e6ebf9"/><circle cx="1394.2" cy="361.3" r="0.49" fill="#c3cdec"/><circle cx="1371.3" cy="388.5" r="0.95" fill="#d5ddf3"/><circle cx="1340.3" cy="380.8" r="1.67" fill="#a9b4e2"/><circle cx="1342.2" cy="363.5" r="0.89" fill="#c3cdec"/><circle cx="1407.1" cy="419.6" r="1.40" fill="#c3cdec"/><circle cx="1380.0" cy="419.2" r="0.62" fill="#a9b4e2"/><circle cx="1333.7" cy="429.3" r="0.96" fill="#c3cdec"/><circle cx="1361.0" cy="363.6" r="0.49" fill="#b3bde6"/><circle cx="1403.2" cy="391.0" r="1.48" fill="#d5ddf3"/><circle cx="1392.1" cy="405.0" r="0.89" fill="#c3cdec"/><circle cx="1337.1" cy="386.7" r="0.54" fill="#a9b4e2"/><circle cx="1358.4" cy="434.0" r="0.62" fill="#d5ddf3"/><circle cx="1373.0" cy="415.2" r="1.55" fill="#c3cdec"/><circle cx="1370.4" cy="378.3" r="0.87" fill="#a9b4e2"/><circle cx="1388.5" cy="393.5" r="1.36" fill="#b3bde6"/><circle cx="1343.1" cy="410.5" r="0.91" fill="#a9b4e2"/><circle cx="1364.9" cy="432.3" r="0.76" fill="#e6ebf9"/><circle cx="1383.0" cy="374.5" r="0.49" fill="#a9b4e2"/><circle cx="1348.5" cy="431.4" r="0.93" fill="#a9b4e2"/><circle cx="1388.2" cy="402.7" r="0.53" fill="#b3bde6"/><circle cx="1359.6" cy="418.3" r="0.95" fill="#d5ddf3"/><circle cx="1360.1" cy="393.1" r="0.82" fill="#a9b4e2"/><circle cx="1344.0" cy="367.7" r="0.92" fill="#c3cdec"/><circle cx="1390.4" cy="369.1" r="0.75" fill="#a9b4e2"/><circle cx="1380.9" cy="424.4" r="0.45" fill="#d5ddf3"/><circle cx="1376.8" cy="368.9" r="0.77" fill="#e6ebf9"/><circle cx="1373.6" cy="357.4" r="0.69" fill="#e6ebf9"/><circle cx="1388.5" cy="421.4" r="0.73" fill="#d5ddf3"/><circle cx="1395.3" cy="386.2" r="0.54" fill="#b3bde6"/><circle cx="1324.7" cy="416.0" r="1.00" fill="#d5ddf3"/><circle cx="1343.4" cy="431.3" r="0.97" fill="#e6ebf9"/><circle cx="1359.2" cy="420.1" r="0.93" fill="#d5ddf3"/><circle cx="1387.6" cy="372.5" r="1.73" fill="#a9b4e2"/><circle cx="1335.3" cy="427.8" r="0.53" fill="#e6ebf9"/><circle cx="1347.8" cy="409.1" r="0.69" fill="#d5ddf3"/><circle cx="1323.3" cy="405.1" r="0.64" fill="#d5ddf3"/><circle cx="1332.3" cy="375.8" r="0.92" fill="#d5ddf3"/><circle cx="1388.0" cy="429.9" r="0.77" fill="#c3cdec"/><circle cx="1380.1" cy="381.8" r="0.95" fill="#a9b4e2"/><circle cx="1388.8" cy="363.5" r="0.58" fill="#e6ebf9"/><circle cx="1373.9" cy="354.6" r="0.85" fill="#c3cdec"/><circle cx="1361.2" cy="376.0" r="0.94" fill="#d5ddf3"/><circle cx="1373.2" cy="348.2" r="0.76" fill="#a9b4e2"/><circle cx="1395.5" cy="417.0" r="0.76" fill="#b3bde6"/><circle cx="1350.6" cy="368.1" r="1.01" fill="#b3bde6"/><circle cx="1376.2" cy="388.9" r="0.66" fill="#b3bde6"/><circle cx="1366.1" cy="402.6" r="0.71" fill="#c3cdec"/><circle cx="1365.1" cy="417.2" r="0.88" fill="#c3cdec"/><circle cx="1347.5" cy="392.0" r="0.87" fill="#b3bde6"/><circle cx="1359.1" cy="371.2" r="0.55" fill="#b3bde6"/><circle cx="1394.2" cy="407.0" r="0.93" fill="#a9b4e2"/><circle cx="1342" cy="367" r="2.6" fill="#a2448e"/><circle cx="1339" cy="436" r="2.2" fill="#a2448e"/><circle cx="1346" cy="372" r="1.6" fill="#a2448e"/><circle cx="1338" cy="371" r="1.5" fill="#a2448e"/></g>
<path d="M1477,348.6 H1577.3 L1577.8,353.3 H1476.4Z" fill="#e4e6e9"/>
<path d="M1483.1,341.2 H1576.3 L1577.3,348.8 H1477Z" fill="#bfc4ca"/>
<path d="M1487.9,319.1 H1567.9 L1576.3,341.2 H1483.1Z" fill="#efede4" stroke="#cfd0d0" stroke-width="0.6"/>
<ellipse cx="1491.4" cy="321.6" rx="1.7" ry="1.6" fill="#a9a89e"/><ellipse cx="1491.8" cy="322.2" rx="1.1" ry="0.8" fill="#e3dcbd"/>
<ellipse cx="1498.1" cy="321.6" rx="1.7" ry="1.6" fill="#a9a89e"/><ellipse cx="1498.5" cy="322.2" rx="1.1" ry="0.8" fill="#e3dcbd"/>
<ellipse cx="1504.8" cy="321.6" rx="1.7" ry="1.6" fill="#a9a89e"/><ellipse cx="1505.2" cy="322.2" rx="1.1" ry="0.8" fill="#e3dcbd"/>
<ellipse cx="1511.4" cy="321.6" rx="1.7" ry="1.6" fill="#a9a89e"/><ellipse cx="1511.8" cy="322.2" rx="1.1" ry="0.8" fill="#e3dcbd"/>
<ellipse cx="1518.1" cy="321.6" rx="1.7" ry="1.6" fill="#a9a89e"/><ellipse cx="1518.5" cy="322.2" rx="1.1" ry="0.8" fill="#e3dcbd"/>
<ellipse cx="1524.7" cy="321.6" rx="1.7" ry="1.6" fill="#a9a89e"/><ellipse cx="1525.1" cy="322.2" rx="1.1" ry="0.8" fill="#e3dcbd"/>
<ellipse cx="1531.4" cy="321.6" rx="1.7" ry="1.6" fill="#a9a89e"/><ellipse cx="1531.8" cy="322.2" rx="1.1" ry="0.8" fill="#e3dcbd"/>
<ellipse cx="1538.1" cy="321.6" rx="1.7" ry="1.6" fill="#a9a89e"/><ellipse cx="1538.5" cy="322.2" rx="1.1" ry="0.8" fill="#e3dcbd"/>
<ellipse cx="1544.7" cy="321.6" rx="1.7" ry="1.6" fill="#a9a89e"/><ellipse cx="1545.1" cy="322.2" rx="1.1" ry="0.8" fill="#e3dcbd"/>
<ellipse cx="1551.4" cy="321.6" rx="1.7" ry="1.6" fill="#a9a89e"/><ellipse cx="1551.8" cy="322.2" rx="1.1" ry="0.8" fill="#e3dcbd"/>
<ellipse cx="1558.1" cy="321.6" rx="1.7" ry="1.6" fill="#a9a89e"/><ellipse cx="1558.5" cy="322.2" rx="1.1" ry="0.8" fill="#e3dcbd"/>
<ellipse cx="1564.7" cy="321.6" rx="1.7" ry="1.6" fill="#a9a89e"/><ellipse cx="1565.1" cy="322.2" rx="1.1" ry="0.8" fill="#e3dcbd"/>
<ellipse cx="1490.5" cy="325.6" rx="1.7" ry="1.6" fill="#a9a89e"/><ellipse cx="1490.9" cy="326.2" rx="1.1" ry="0.9" fill="#e3dcbd"/>
<ellipse cx="1497.4" cy="325.6" rx="1.7" ry="1.6" fill="#a9a89e"/><ellipse cx="1497.8" cy="326.2" rx="1.1" ry="0.9" fill="#e3dcbd"/>
<ellipse cx="1504.3" cy="325.6" rx="1.7" ry="1.6" fill="#a9a89e"/><ellipse cx="1504.7" cy="326.2" rx="1.1" ry="0.9" fill="#e3dcbd"/>
<ellipse cx="1511.2" cy="325.6" rx="1.7" ry="1.6" fill="#a9a89e"/><ellipse cx="1511.6" cy="326.2" rx="1.1" ry="0.9" fill="#e3dcbd"/>
<ellipse cx="1518.1" cy="325.6" rx="1.7" ry="1.6" fill="#a9a89e"/><ellipse cx="1518.5" cy="326.2" rx="1.1" ry="0.9" fill="#e3dcbd"/>
<ellipse cx="1525.0" cy="325.6" rx="1.7" ry="1.6" fill="#a9a89e"/><ellipse cx="1525.4" cy="326.2" rx="1.1" ry="0.9" fill="#e3dcbd"/>
<ellipse cx="1531.9" cy="325.6" rx="1.7" ry="1.6" fill="#a9a89e"/><ellipse cx="1532.3" cy="326.2" rx="1.1" ry="0.9" fill="#e3dcbd"/>
<ellipse cx="1538.8" cy="325.6" rx="1.7" ry="1.6" fill="#a9a89e"/><ellipse cx="1539.2" cy="326.2" rx="1.1" ry="0.9" fill="#e3dcbd"/>
<ellipse cx="1545.7" cy="325.6" rx="1.7" ry="1.6" fill="#a9a89e"/><ellipse cx="1546.1" cy="326.2" rx="1.1" ry="0.9" fill="#e3dcbd"/>
<ellipse cx="1552.6" cy="325.6" rx="1.7" ry="1.6" fill="#a9a89e"/><ellipse cx="1553.0" cy="326.2" rx="1.1" ry="0.9" fill="#e3dcbd"/>
<ellipse cx="1559.5" cy="325.6" rx="1.7" ry="1.6" fill="#a9a89e"/><ellipse cx="1559.9" cy="326.2" rx="1.1" ry="0.9" fill="#e3dcbd"/>
<ellipse cx="1566.4" cy="325.6" rx="1.7" ry="1.6" fill="#a9a89e"/><ellipse cx="1566.8" cy="326.2" rx="1.1" ry="0.9" fill="#e3dcbd"/>
<ellipse cx="1489.5" cy="329.9" rx="1.7" ry="1.8" fill="#a9a89e"/><ellipse cx="1489.9" cy="330.5" rx="1.1" ry="1.0" fill="#e3dcbd"/>
<ellipse cx="1496.6" cy="329.9" rx="1.7" ry="1.8" fill="#a9a89e"/><ellipse cx="1497.0" cy="330.5" rx="1.1" ry="1.0" fill="#e3dcbd"/>
<ellipse cx="1503.8" cy="329.9" rx="1.7" ry="1.8" fill="#a9a89e"/><ellipse cx="1504.2" cy="330.5" rx="1.1" ry="1.0" fill="#e3dcbd"/>
<ellipse cx="1510.9" cy="329.9" rx="1.7" ry="1.8" fill="#a9a89e"/><ellipse cx="1511.3" cy="330.5" rx="1.1" ry="1.0" fill="#e3dcbd"/>
<ellipse cx="1518.1" cy="329.9" rx="1.7" ry="1.8" fill="#a9a89e"/><ellipse cx="1518.5" cy="330.5" rx="1.1" ry="1.0" fill="#e3dcbd"/>
<ellipse cx="1525.2" cy="329.9" rx="1.7" ry="1.8" fill="#a9a89e"/><ellipse cx="1525.6" cy="330.5" rx="1.1" ry="1.0" fill="#e3dcbd"/>
<ellipse cx="1532.4" cy="329.9" rx="1.7" ry="1.8" fill="#a9a89e"/><ellipse cx="1532.8" cy="330.5" rx="1.1" ry="1.0" fill="#e3dcbd"/>
<ellipse cx="1539.5" cy="329.9" rx="1.7" ry="1.8" fill="#a9a89e"/><ellipse cx="1539.9" cy="330.5" rx="1.1" ry="1.0" fill="#e3dcbd"/>
<ellipse cx="1546.7" cy="329.9" rx="1.7" ry="1.8" fill="#a9a89e"/><ellipse cx="1547.1" cy="330.5" rx="1.1" ry="1.0" fill="#e3dcbd"/>
<ellipse cx="1553.8" cy="329.9" rx="1.7" ry="1.8" fill="#a9a89e"/><ellipse cx="1554.2" cy="330.5" rx="1.1" ry="1.0" fill="#e3dcbd"/>
<ellipse cx="1561.0" cy="329.9" rx="1.7" ry="1.8" fill="#a9a89e"/><ellipse cx="1561.4" cy="330.5" rx="1.1" ry="1.0" fill="#e3dcbd"/>
<ellipse cx="1568.1" cy="329.9" rx="1.7" ry="1.8" fill="#a9a89e"/><ellipse cx="1568.5" cy="330.5" rx="1.1" ry="1.0" fill="#e3dcbd"/>
<ellipse cx="1488.5" cy="334.5" rx="1.7" ry="1.9" fill="#a9a89e"/><ellipse cx="1488.9" cy="335.1" rx="1.1" ry="1.0" fill="#e3dcbd"/>
<ellipse cx="1495.9" cy="334.5" rx="1.7" ry="1.9" fill="#a9a89e"/><ellipse cx="1496.3" cy="335.1" rx="1.1" ry="1.0" fill="#e3dcbd"/>
<ellipse cx="1503.3" cy="334.5" rx="1.7" ry="1.9" fill="#a9a89e"/><ellipse cx="1503.7" cy="335.1" rx="1.1" ry="1.0" fill="#e3dcbd"/>
<ellipse cx="1510.7" cy="334.5" rx="1.7" ry="1.9" fill="#a9a89e"/><ellipse cx="1511.1" cy="335.1" rx="1.1" ry="1.0" fill="#e3dcbd"/>
<ellipse cx="1518.1" cy="334.5" rx="1.7" ry="1.9" fill="#a9a89e"/><ellipse cx="1518.5" cy="335.1" rx="1.1" ry="1.0" fill="#e3dcbd"/>
<ellipse cx="1525.5" cy="334.5" rx="1.7" ry="1.9" fill="#a9a89e"/><ellipse cx="1525.9" cy="335.1" rx="1.1" ry="1.0" fill="#e3dcbd"/>
<ellipse cx="1532.9" cy="334.5" rx="1.7" ry="1.9" fill="#a9a89e"/><ellipse cx="1533.3" cy="335.1" rx="1.1" ry="1.0" fill="#e3dcbd"/>
<ellipse cx="1540.2" cy="334.5" rx="1.7" ry="1.9" fill="#a9a89e"/><ellipse cx="1540.6" cy="335.1" rx="1.1" ry="1.0" fill="#e3dcbd"/>
<ellipse cx="1547.6" cy="334.5" rx="1.7" ry="1.9" fill="#a9a89e"/><ellipse cx="1548.0" cy="335.1" rx="1.1" ry="1.0" fill="#e3dcbd"/>
<ellipse cx="1555.0" cy="334.5" rx="1.7" ry="1.9" fill="#a9a89e"/><ellipse cx="1555.4" cy="335.1" rx="1.1" ry="1.0" fill="#e3dcbd"/>
<ellipse cx="1562.4" cy="334.5" rx="1.7" ry="1.9" fill="#a9a89e"/><ellipse cx="1562.8" cy="335.1" rx="1.1" ry="1.0" fill="#e3dcbd"/>
<ellipse cx="1569.8" cy="334.5" rx="1.7" ry="1.9" fill="#a9a89e"/><ellipse cx="1570.2" cy="335.1" rx="1.1" ry="1.0" fill="#e3dcbd"/>
<ellipse cx="1487.6" cy="339.3" rx="1.7" ry="1.9" fill="#a9a89e"/><ellipse cx="1488.0" cy="339.9" rx="1.1" ry="1.1" fill="#e3dcbd"/>
<ellipse cx="1495.2" cy="339.3" rx="1.7" ry="1.9" fill="#a9a89e"/><ellipse cx="1495.6" cy="339.9" rx="1.1" ry="1.1" fill="#e3dcbd"/>
<ellipse cx="1502.8" cy="339.3" rx="1.7" ry="1.9" fill="#a9a89e"/><ellipse cx="1503.2" cy="339.9" rx="1.1" ry="1.1" fill="#e3dcbd"/>
<ellipse cx="1510.5" cy="339.3" rx="1.7" ry="1.9" fill="#a9a89e"/><ellipse cx="1510.9" cy="339.9" rx="1.1" ry="1.1" fill="#e3dcbd"/>
<ellipse cx="1518.1" cy="339.3" rx="1.7" ry="1.9" fill="#a9a89e"/><ellipse cx="1518.5" cy="339.9" rx="1.1" ry="1.1" fill="#e3dcbd"/>
<ellipse cx="1525.7" cy="339.3" rx="1.7" ry="1.9" fill="#a9a89e"/><ellipse cx="1526.1" cy="339.9" rx="1.1" ry="1.1" fill="#e3dcbd"/>
<ellipse cx="1533.3" cy="339.3" rx="1.7" ry="1.9" fill="#a9a89e"/><ellipse cx="1533.7" cy="339.9" rx="1.1" ry="1.1" fill="#e3dcbd"/>
<ellipse cx="1541.0" cy="339.3" rx="1.7" ry="1.9" fill="#a9a89e"/><ellipse cx="1541.4" cy="339.9" rx="1.1" ry="1.1" fill="#e3dcbd"/>
<ellipse cx="1548.6" cy="339.3" rx="1.7" ry="1.9" fill="#a9a89e"/><ellipse cx="1549.0" cy="339.9" rx="1.1" ry="1.1" fill="#e3dcbd"/>
<ellipse cx="1556.2" cy="339.3" rx="1.7" ry="1.9" fill="#a9a89e"/><ellipse cx="1556.6" cy="339.9" rx="1.1" ry="1.1" fill="#e3dcbd"/>
<ellipse cx="1563.8" cy="339.3" rx="1.7" ry="1.9" fill="#a9a89e"/><ellipse cx="1564.2" cy="339.9" rx="1.1" ry="1.1" fill="#e3dcbd"/>
<ellipse cx="1571.5" cy="339.3" rx="1.7" ry="1.9" fill="#a9a89e"/><ellipse cx="1571.9" cy="339.9" rx="1.1" ry="1.1" fill="#e3dcbd"/>
<path d="M1462.3,366.7 V466.4 H1594.8" stroke="#222" stroke-width="1.3" fill="none"/>
<path d="M1466,438.8 H1594" stroke="#b4b4b4" stroke-width="1.2" stroke-dasharray="5 4" fill="none"/>
<path d="M1462.8,465 C1490,461.5 1520,462 1594.8,462" stroke="#222" stroke-width="1.5" fill="none"/>
<path d="M1462.50,465.90 C1465.42,465.58 1474.95,464.68 1480.00,464.00 C1485.05,463.32 1488.42,463.00 1492.80,461.80 C1497.18,460.60 1502.37,459.32 1506.30,456.80 C1510.23,454.28 1513.88,450.35 1516.40,446.70 C1518.92,443.05 1519.72,440.78 1521.40,434.90 C1523.08,429.02 1524.82,418.13 1526.50,411.40 C1528.18,404.67 1529.55,398.98 1531.50,394.50 C1533.45,390.02 1535.12,387.18 1538.20,384.50 C1541.28,381.82 1545.23,379.82 1550.00,378.40 C1554.77,376.98 1559.97,376.78 1566.80,376.00 C1573.63,375.22 1586.97,374.08 1591.00,373.70" fill="none" stroke="#22c13e" stroke-width="1.7"/>
<text x="1544" y="392.7" font-size="7" font-weight="bold" fill="#1f9e33" textLength="50.8" lengthAdjust="spacingAndGlyphs">Amplification</text>
<text x="1563" y="433" font-size="7" font-weight="normal" fill="#a8a8a8" textLength="31.5" lengthAdjust="spacingAndGlyphs">Threshold</text>
<text x="1532" y="452" font-size="7" font-weight="bold" fill="#222" textLength="62.8" lengthAdjust="spacingAndGlyphs">No amplification</text>
<text x="1483" y="483" font-size="7" font-weight="bold" fill="#222" textLength="91" lengthAdjust="spacingAndGlyphs">Copies per reaction (Ct)</text>
<text transform="translate(1454.5,441) rotate(-90)" font-size="7" font-weight="bold" fill="#222" textLength="49" lengthAdjust="spacingAndGlyphs">Fluorescence</text>
<rect x="1242.6" y="609.6" width="149.4" height="140.4" fill="#fff"/>
<path d="M1271.2,615 V723 H1384.2" stroke="#e7bcbc" stroke-width="0.8" fill="none"/>
<path d="M1271.24,615.1 L1306.5,619.23 L1310.63,623.36 L1316.14,632.18 L1323.03,642.64 L1327.16,655.04 L1330.74,668.82 L1334.05,687.27 L1336.8,703.25 L1340.94,722.53" fill="none" stroke="#f0aa3a" stroke-width="1"/>
<path d="M1271.24,615.1 L1289.97,615.65 L1303.75,619.23 L1310.63,622.81 L1312.01,633.0 L1316.14,645.4 L1320.28,653.66 L1327.16,657.8 L1331.29,668.82 L1335.43,678.46 L1339.56,686.72 L1342.31,699.12 L1350.58,707.38 L1358.84,714.27 L1365.73,718.4 L1366.56,723.09" fill="none" stroke="#c548a4" stroke-width="1.1"/>
<text x="1266" y="617.0" font-size="4.6" font-weight="normal" fill="#333" text-anchor="end">1.0</text>
<path d="M1269.6,615.0 H1271.2" stroke="#caa" stroke-width="0.6"/>
<text x="1266" y="638.6" font-size="4.6" font-weight="normal" fill="#333" text-anchor="end">0.8</text>
<path d="M1269.6,636.6 H1271.2" stroke="#caa" stroke-width="0.6"/>
<text x="1266" y="660.2" font-size="4.6" font-weight="normal" fill="#333" text-anchor="end">0.6</text>
<path d="M1269.6,658.2 H1271.2" stroke="#caa" stroke-width="0.6"/>
<text x="1266" y="681.8" font-size="4.6" font-weight="normal" fill="#333" text-anchor="end">0.4</text>
<path d="M1269.6,679.8 H1271.2" stroke="#caa" stroke-width="0.6"/>
<text x="1266" y="703.4" font-size="4.6" font-weight="normal" fill="#333" text-anchor="end">0.2</text>
<path d="M1269.6,701.4 H1271.2" stroke="#caa" stroke-width="0.6"/>
<text x="1266" y="725.0" font-size="4.6" font-weight="normal" fill="#333" text-anchor="end">0.0</text>
<path d="M1269.6,723.0 H1271.2" stroke="#caa" stroke-width="0.6"/>
<text x="1271.2" y="733.6" font-size="4.6" font-weight="normal" fill="#333" text-anchor="middle">0</text>
<text x="1293.96" y="733.6" font-size="4.6" font-weight="normal" fill="#333" text-anchor="middle">200</text>
<text x="1316.72" y="733.6" font-size="4.6" font-weight="normal" fill="#333" text-anchor="middle">400</text>
<text x="1339.48" y="733.6" font-size="4.6" font-weight="normal" fill="#333" text-anchor="middle">600</text>
<text x="1362.24" y="733.6" font-size="4.6" font-weight="normal" fill="#333" text-anchor="middle">800</text>
<text x="1385.0" y="733.6" font-size="4.6" font-weight="normal" fill="#333" text-anchor="middle">1000</text>
<text x="1307.9" y="745.8" font-size="5.4" font-weight="bold" fill="#222" textLength="41.3" lengthAdjust="spacingAndGlyphs">Time (days)</text>
<text transform="translate(1251,680) rotate(-90)" font-size="5.4" font-weight="bold" fill="#222" textLength="26" lengthAdjust="spacingAndGlyphs">Survival</text>
<path d="M1334,631.6 H1350.6" stroke="#f0aa3a" stroke-width="0.9"/><path d="M1334,637.7 H1350.6" stroke="#e9b6dc" stroke-width="0.9"/>
<text x="1354.7" y="633.3" font-size="4.4" font-weight="normal" fill="#333">HFD</text>
<text x="1354.7" y="639.4" font-size="4.4" font-weight="normal" fill="#333" textLength="24.8" lengthAdjust="spacingAndGlyphs">HFD5GP</text>
</svg>
</body></html>
